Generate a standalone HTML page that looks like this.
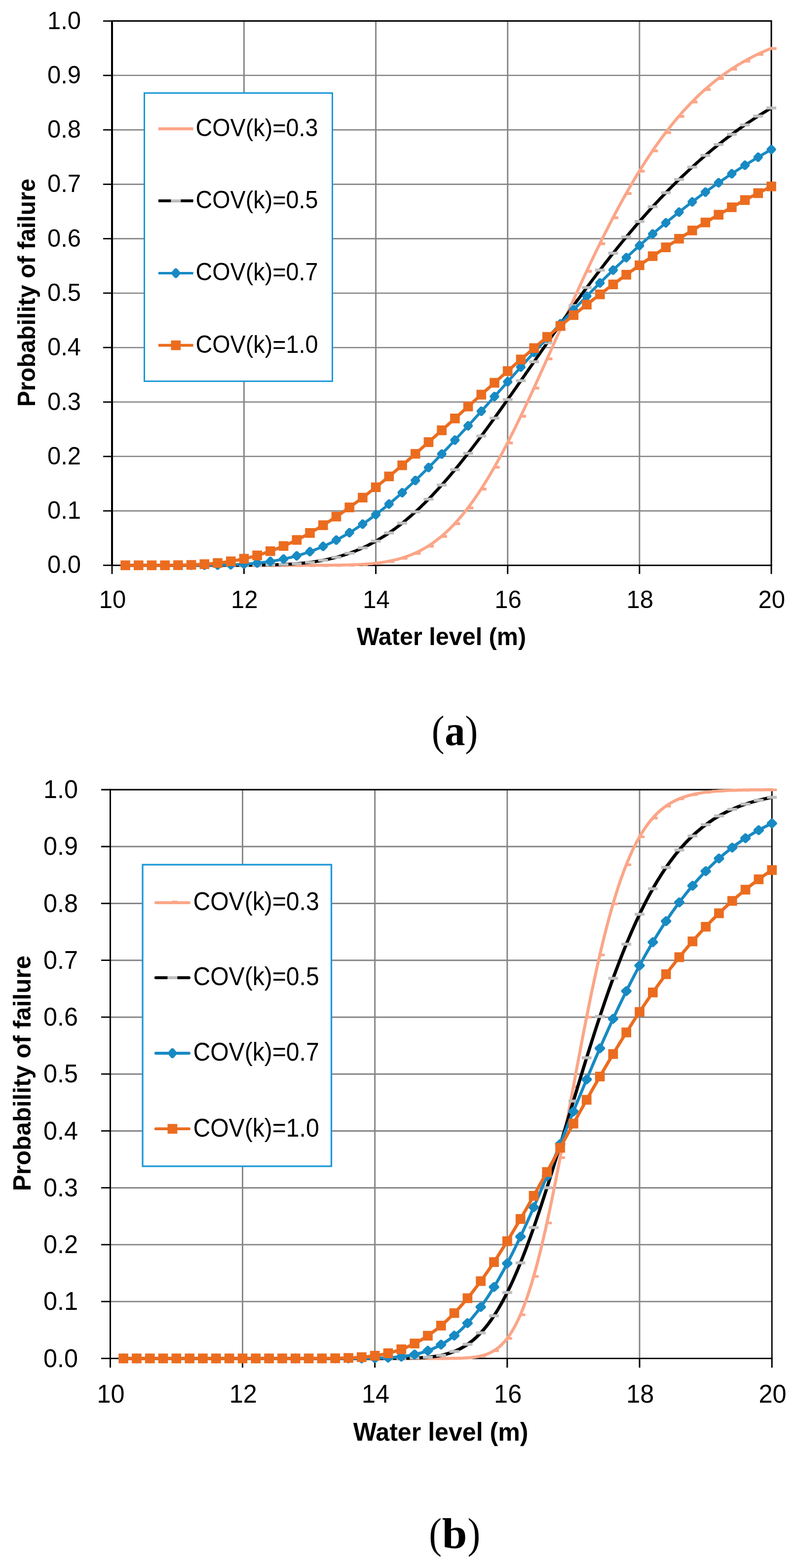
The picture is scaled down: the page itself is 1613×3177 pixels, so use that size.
<!DOCTYPE html>
<html><head><meta charset="utf-8"><title>Probability of failure vs water level</title>
<style>html,body{margin:0;padding:0;background:#fff;}svg{display:block;}</style></head>
<body>
<svg width="1613" height="3177" viewBox="0 0 1613 3177">
<rect width="1613" height="3177" fill="#fff"/>
<g id="chart-a">
<path d="M227.3 1035.11H1563M227.3 924.82H1563M227.3 814.53H1563M227.3 704.24H1563M227.3 593.95H1563M227.3 483.66H1563M227.3 373.37H1563M227.3 263.08H1563M227.3 152.79H1563" stroke="#858585" stroke-width="2.6" fill="none"/>
<path d="M494.44 42.5V1145.4M761.58 42.5V1145.4M1028.72 42.5V1145.4M1295.86 42.5V1145.4" stroke="#858585" stroke-width="2.9" fill="none"/>
<path d="M227.3 42.5H1563M1563 41V1145.4" stroke="#000" stroke-width="3" fill="none"/>
<path d="M227.3 1145.4H1564.5" stroke="#000" stroke-width="3" fill="none"/>
<path d="M227 41V1145.4" stroke="#000" stroke-width="4" fill="none"/>
<path d="M209 1145.4H227M209 1035.11H227M209 924.82H227M209 814.53H227M209 704.24H227M209 593.95H227M209 483.66H227M209 373.37H227M209 263.08H227M209 152.79H227M209 42.5H227" stroke="#000" stroke-width="2.75" fill="none"/>
<path d="M227 1145.4V1163M494.44 1145.4V1163M761.58 1145.4V1163M1028.72 1145.4V1163M1295.86 1145.4V1163M1563 1145.4V1163" stroke="#000" stroke-width="2.9" fill="none"/>
<text transform="translate(164.05 1161.4) scale(0.99 1)" text-anchor="end" font-family="'Liberation Sans', sans-serif" font-size="49.5">0.0</text>
<text transform="translate(164.05 1051.11) scale(0.99 1)" text-anchor="end" font-family="'Liberation Sans', sans-serif" font-size="49.5">0.1</text>
<text transform="translate(164.05 940.82) scale(0.99 1)" text-anchor="end" font-family="'Liberation Sans', sans-serif" font-size="49.5">0.2</text>
<text transform="translate(164.05 830.53) scale(0.99 1)" text-anchor="end" font-family="'Liberation Sans', sans-serif" font-size="49.5">0.3</text>
<text transform="translate(164.05 720.24) scale(0.99 1)" text-anchor="end" font-family="'Liberation Sans', sans-serif" font-size="49.5">0.4</text>
<text transform="translate(164.05 609.95) scale(0.99 1)" text-anchor="end" font-family="'Liberation Sans', sans-serif" font-size="49.5">0.5</text>
<text transform="translate(164.05 499.66) scale(0.99 1)" text-anchor="end" font-family="'Liberation Sans', sans-serif" font-size="49.5">0.6</text>
<text transform="translate(164.05 389.37) scale(0.99 1)" text-anchor="end" font-family="'Liberation Sans', sans-serif" font-size="49.5">0.7</text>
<text transform="translate(164.05 279.08) scale(0.99 1)" text-anchor="end" font-family="'Liberation Sans', sans-serif" font-size="49.5">0.8</text>
<text transform="translate(164.05 168.79) scale(0.99 1)" text-anchor="end" font-family="'Liberation Sans', sans-serif" font-size="49.5">0.9</text>
<text transform="translate(164.05 58.5) scale(0.99 1)" text-anchor="end" font-family="'Liberation Sans', sans-serif" font-size="49.5">1.0</text>
<text transform="translate(228.1 1231.5) scale(0.99 1)" text-anchor="middle" font-family="'Liberation Sans', sans-serif" font-size="49.5">10</text>
<text transform="translate(495.24 1231.5) scale(0.99 1)" text-anchor="middle" font-family="'Liberation Sans', sans-serif" font-size="49.5">12</text>
<text transform="translate(762.38 1231.5) scale(0.99 1)" text-anchor="middle" font-family="'Liberation Sans', sans-serif" font-size="49.5">14</text>
<text transform="translate(1029.52 1231.5) scale(0.99 1)" text-anchor="middle" font-family="'Liberation Sans', sans-serif" font-size="49.5">16</text>
<text transform="translate(1296.66 1231.5) scale(0.99 1)" text-anchor="middle" font-family="'Liberation Sans', sans-serif" font-size="49.5">18</text>
<text transform="translate(1563.8 1231.5) scale(0.99 1)" text-anchor="middle" font-family="'Liberation Sans', sans-serif" font-size="49.5">20</text>
<text transform="translate(722.88 1307.2) scale(0.97 1)" font-family="'Liberation Sans', sans-serif" font-weight="bold" font-size="50">Water level (m)</text>
<text transform="translate(70.9 824.12) rotate(-90) scale(0.97 1)" font-family="'Liberation Sans', sans-serif" font-weight="bold" font-size="49.3">Probability of failure</text>
<polyline points="254.01,1145.4 256.69,1145.4 259.36,1145.4 262.03,1145.4 264.7,1145.4 267.37,1145.4 270.04,1145.4 272.71,1145.4 275.39,1145.4 278.06,1145.4 280.73,1145.4 283.4,1145.4 286.07,1145.4 288.74,1145.4 291.41,1145.4 294.08,1145.4 296.76,1145.4 299.43,1145.4 302.1,1145.4 304.77,1145.4 307.44,1145.4 310.11,1145.4 312.78,1145.4 315.46,1145.4 318.13,1145.4 320.8,1145.4 323.47,1145.4 326.14,1145.4 328.81,1145.4 331.48,1145.4 334.16,1145.4 336.83,1145.4 339.5,1145.4 342.17,1145.4 344.84,1145.4 347.51,1145.4 350.18,1145.4 352.86,1145.4 355.53,1145.4 358.2,1145.4 360.87,1145.4 363.54,1145.4 366.21,1145.4 368.88,1145.4 371.56,1145.4 374.23,1145.4 376.9,1145.4 379.57,1145.4 382.24,1145.4 384.91,1145.4 387.58,1145.4 390.26,1145.4 392.93,1145.4 395.6,1145.4 398.27,1145.4 400.94,1145.4 403.61,1145.4 406.28,1145.4 408.96,1145.4 411.63,1145.4 414.3,1145.4 416.97,1145.4 419.64,1145.4 422.31,1145.4 424.98,1145.4 427.65,1145.4 430.33,1145.4 433,1145.4 435.67,1145.4 438.34,1145.4 441.01,1145.4 443.68,1145.4 446.35,1145.4 449.03,1145.4 451.7,1145.4 454.37,1145.4 457.04,1145.4 459.71,1145.4 462.38,1145.4 465.05,1145.4 467.73,1145.4 470.4,1145.4 473.07,1145.4 475.74,1145.4 478.41,1145.4 481.08,1145.4 483.75,1145.4 486.43,1145.4 489.1,1145.4 491.77,1145.4 494.44,1145.4 497.11,1145.4 499.78,1145.4 502.45,1145.4 505.13,1145.4 507.8,1145.4 510.47,1145.4 513.14,1145.4 515.81,1145.4 518.48,1145.4 521.15,1145.4 523.83,1145.4 526.5,1145.4 529.17,1145.4 531.84,1145.4 534.51,1145.4 537.18,1145.4 539.85,1145.4 542.53,1145.4 545.2,1145.4 547.87,1145.4 550.54,1145.4 553.21,1145.4 555.88,1145.4 558.55,1145.4 561.22,1145.4 563.9,1145.4 566.57,1145.4 569.24,1145.4 571.91,1145.4 574.58,1145.4 577.25,1145.4 579.92,1145.4 582.6,1145.4 585.27,1145.4 587.94,1145.4 590.61,1145.4 593.28,1145.4 595.95,1145.39 598.62,1145.39 601.3,1145.39 603.97,1145.39 606.64,1145.39 609.31,1145.39 611.98,1145.39 614.65,1145.38 617.32,1145.38 620,1145.38 622.67,1145.37 625.34,1145.37 628.01,1145.37 630.68,1145.36 633.35,1145.36 636.02,1145.35 638.7,1145.34 641.37,1145.34 644.04,1145.33 646.71,1145.32 649.38,1145.31 652.05,1145.3 654.72,1145.29 657.4,1145.27 660.07,1145.26 662.74,1145.24 665.41,1145.22 668.08,1145.2 670.75,1145.18 673.42,1145.15 676.1,1145.12 678.77,1145.09 681.44,1145.06 684.11,1145.02 686.78,1144.98 689.45,1144.94 692.12,1144.89 694.79,1144.84 697.47,1144.79 700.14,1144.73 702.81,1144.66 705.48,1144.59 708.15,1144.52 710.82,1144.43 713.49,1144.34 716.17,1144.25 718.84,1144.15 721.51,1144.03 724.18,1143.92 726.85,1143.79 729.52,1143.65 732.19,1143.5 734.87,1143.35 737.54,1143.18 740.21,1143 742.88,1142.81 745.55,1142.6 748.22,1142.39 750.89,1142.16 753.57,1141.91 756.24,1141.65 758.91,1141.38 761.58,1141.08 764.25,1140.77 766.92,1140.44 769.59,1140.1 772.27,1139.73 774.94,1139.34 777.61,1138.93 780.28,1138.5 782.95,1138.05 785.62,1137.57 788.29,1137.07 790.97,1136.54 793.64,1135.99 796.31,1135.41 798.98,1134.8 801.65,1134.16 804.32,1133.49 806.99,1132.79 809.67,1132.06 812.34,1131.29 815.01,1130.49 817.68,1129.66 820.35,1128.79 823.02,1127.88 825.69,1126.94 828.36,1125.96 831.04,1124.94 833.71,1123.87 836.38,1122.77 839.05,1121.62 841.72,1120.43 844.39,1119.2 847.06,1117.92 849.74,1116.59 852.41,1115.22 855.08,1113.8 857.75,1112.33 860.42,1110.81 863.09,1109.24 865.76,1107.62 868.44,1105.95 871.11,1104.22 873.78,1102.44 876.45,1100.61 879.12,1098.72 881.79,1096.78 884.46,1094.77 887.14,1092.72 889.81,1090.6 892.48,1088.43 895.15,1086.19 897.82,1083.9 900.49,1081.55 903.16,1079.14 905.84,1076.66 908.51,1074.13 911.18,1071.53 913.85,1068.88 916.52,1066.16 919.19,1063.37 921.86,1060.53 924.54,1057.62 927.21,1054.65 929.88,1051.61 932.55,1048.51 935.22,1045.35 937.89,1042.13 940.56,1038.84 943.24,1035.48 945.91,1032.07 948.58,1028.59 951.25,1025.05 953.92,1021.44 956.59,1017.77 959.26,1014.04 961.93,1010.25 964.61,1006.39 967.28,1002.47 969.95,998.5 972.62,994.46 975.29,990.36 977.96,986.2 980.63,981.98 983.31,977.7 985.98,973.37 988.65,968.97 991.32,964.52 993.99,960.02 996.66,955.46 999.33,950.84 1002.01,946.17 1004.68,941.45 1007.35,936.67 1010.02,931.84 1012.69,926.97 1015.36,922.04 1018.03,917.06 1020.71,912.04 1023.38,906.97 1026.05,901.85 1028.72,896.69 1031.39,891.48 1034.06,886.23 1036.73,880.94 1039.41,875.61 1042.08,870.24 1044.75,864.83 1047.42,859.39 1050.09,853.91 1052.76,848.39 1055.43,842.84 1058.11,837.26 1060.78,831.64 1063.45,826 1066.12,820.32 1068.79,814.62 1071.46,808.89 1074.13,803.14 1076.81,797.36 1079.48,791.56 1082.15,785.74 1084.82,779.9 1087.49,774.04 1090.16,768.16 1092.83,762.27 1095.5,756.36 1098.18,750.43 1100.85,744.5 1103.52,738.55 1106.19,732.59 1108.86,726.62 1111.53,720.65 1114.2,714.67 1116.88,708.68 1119.55,702.69 1122.22,696.69 1124.89,690.69 1127.56,684.7 1130.23,678.7 1132.9,672.7 1135.58,666.71 1138.25,660.72 1140.92,654.74 1143.59,648.76 1146.26,642.79 1148.93,636.83 1151.6,630.88 1154.28,624.94 1156.95,619.01 1159.62,613.09 1162.29,607.18 1164.96,601.29 1167.63,595.42 1170.3,589.56 1172.98,583.72 1175.65,577.9 1178.32,572.1 1180.99,566.31 1183.66,560.55 1186.33,554.81 1189,549.1 1191.68,543.4 1194.35,537.73 1197.02,532.09 1199.69,526.47 1202.36,520.88 1205.03,515.31 1207.7,509.78 1210.38,504.27 1213.05,498.79 1215.72,493.34 1218.39,487.92 1221.06,482.54 1223.73,477.18 1226.4,471.86 1229.07,466.57 1231.75,461.31 1234.42,456.09 1237.09,450.9 1239.76,445.75 1242.43,440.63 1245.1,435.55 1247.77,430.51 1250.45,425.5 1253.12,420.53 1255.79,415.59 1258.46,410.7 1261.13,405.84 1263.8,401.02 1266.47,396.24 1269.15,391.5 1271.82,386.79 1274.49,382.13 1277.16,377.51 1279.83,372.92 1282.5,368.38 1285.17,363.88 1287.85,359.42 1290.52,354.99 1293.19,350.61 1295.86,346.27 1298.53,341.97 1301.2,337.72 1303.87,333.5 1306.55,329.33 1309.22,325.19 1311.89,321.1 1314.56,317.05 1317.23,313.04 1319.9,309.07 1322.57,305.14 1325.25,301.26 1327.92,297.41 1330.59,293.61 1333.26,289.85 1335.93,286.13 1338.6,282.45 1341.27,278.81 1343.95,275.21 1346.62,271.66 1349.29,268.14 1351.96,264.67 1354.63,261.23 1357.3,257.84 1359.97,254.48 1362.64,251.17 1365.32,247.89 1367.99,244.66 1370.66,241.46 1373.33,238.31 1376,235.19 1378.67,232.11 1381.34,229.07 1384.02,226.07 1386.69,223.11 1389.36,220.18 1392.03,217.29 1394.7,214.44 1397.37,211.63 1400.04,208.86 1402.72,206.12 1405.39,203.41 1408.06,200.75 1410.73,198.12 1413.4,195.52 1416.07,192.96 1418.74,190.44 1421.42,187.95 1424.09,185.49 1426.76,183.07 1429.43,180.69 1432.1,178.33 1434.77,176.01 1437.44,173.73 1440.12,171.47 1442.79,169.25 1445.46,167.06 1448.13,164.9 1450.8,162.78 1453.47,160.68 1456.14,158.62 1458.82,156.59 1461.49,154.58 1464.16,152.61 1466.83,150.67 1469.5,148.75 1472.17,146.87 1474.84,145.01 1477.52,143.18 1480.19,141.38 1482.86,139.61 1485.53,137.87 1488.2,136.15 1490.87,134.46 1493.54,132.8 1496.21,131.16 1498.89,129.55 1501.56,127.96 1504.23,126.4 1506.9,124.86 1509.57,123.35 1512.24,121.87 1514.91,120.4 1517.59,118.97 1520.26,117.55 1522.93,116.16 1525.6,114.79 1528.27,113.44 1530.94,112.12 1533.61,110.82 1536.29,109.53 1538.96,108.28 1541.63,107.04 1544.3,105.82 1546.97,104.62 1549.64,103.45 1552.31,102.29 1554.99,101.15 1557.66,100.04 1560.33,98.94 1563,97.86" stroke="#FBA688" stroke-width="6.0" fill="none" stroke-linejoin="round" stroke-linecap="round"/>
<path d="M254.01 1143.15h10.6v5.7h-10.6zM280.73 1143.15h10.6v5.7h-10.6zM307.44 1143.15h10.6v5.7h-10.6zM334.16 1143.15h10.6v5.7h-10.6zM360.87 1143.15h10.6v5.7h-10.6zM387.58 1143.15h10.6v5.7h-10.6zM414.3 1143.15h10.6v5.7h-10.6zM441.01 1143.15h10.6v5.7h-10.6zM467.73 1143.15h10.6v5.7h-10.6zM494.44 1143.15h10.6v5.7h-10.6zM521.15 1143.15h10.6v5.7h-10.6zM547.87 1143.15h10.6v5.7h-10.6zM574.58 1143.15h10.6v5.7h-10.6zM601.3 1143.14h10.6v5.7h-10.6zM628.01 1143.12h10.6v5.7h-10.6zM654.72 1143.04h10.6v5.7h-10.6zM681.44 1142.81h10.6v5.7h-10.6zM708.15 1142.27h10.6v5.7h-10.6zM734.87 1141.1h10.6v5.7h-10.6zM761.58 1138.83h10.6v5.7h-10.6zM788.29 1134.82h10.6v5.7h-10.6zM815.01 1128.24h10.6v5.7h-10.6zM841.72 1118.18h10.6v5.7h-10.6zM868.44 1103.7h10.6v5.7h-10.6zM895.15 1083.94h10.6v5.7h-10.6zM921.86 1058.28h10.6v5.7h-10.6zM948.58 1026.34h10.6v5.7h-10.6zM975.29 988.11h10.6v5.7h-10.6zM1002.01 943.92h10.6v5.7h-10.6zM1028.72 894.44h10.6v5.7h-10.6zM1055.43 840.59h10.6v5.7h-10.6zM1082.15 783.49h10.6v5.7h-10.6zM1108.86 724.37h10.6v5.7h-10.6zM1135.58 664.46h10.6v5.7h-10.6zM1162.29 604.93h10.6v5.7h-10.6zM1189 546.85h10.6v5.7h-10.6zM1215.72 491.09h10.6v5.7h-10.6zM1242.43 438.38h10.6v5.7h-10.6zM1269.15 389.25h10.6v5.7h-10.6zM1295.86 344.02h10.6v5.7h-10.6zM1322.57 302.89h10.6v5.7h-10.6zM1349.29 265.89h10.6v5.7h-10.6zM1376 232.94h10.6v5.7h-10.6zM1402.72 203.87h10.6v5.7h-10.6zM1429.43 178.44h10.6v5.7h-10.6zM1456.14 156.37h10.6v5.7h-10.6zM1482.86 137.36h10.6v5.7h-10.6zM1509.57 121.1h10.6v5.7h-10.6zM1536.29 107.28h10.6v5.7h-10.6zM1563 95.61h10.6v5.7h-10.6z" fill="#FBA688"/>
<polyline points="254.01,1145.4 256.69,1145.4 259.36,1145.4 262.03,1145.4 264.7,1145.4 267.37,1145.4 270.04,1145.4 272.71,1145.4 275.39,1145.4 278.06,1145.4 280.73,1145.4 283.4,1145.4 286.07,1145.4 288.74,1145.4 291.41,1145.4 294.08,1145.4 296.76,1145.4 299.43,1145.4 302.1,1145.4 304.77,1145.4 307.44,1145.4 310.11,1145.4 312.78,1145.4 315.46,1145.4 318.13,1145.4 320.8,1145.4 323.47,1145.4 326.14,1145.4 328.81,1145.4 331.48,1145.4 334.16,1145.4 336.83,1145.4 339.5,1145.4 342.17,1145.4 344.84,1145.4 347.51,1145.4 350.18,1145.4 352.86,1145.4 355.53,1145.4 358.2,1145.4 360.87,1145.4 363.54,1145.4 366.21,1145.4 368.88,1145.4 371.56,1145.4 374.23,1145.4 376.9,1145.4 379.57,1145.4 382.24,1145.4 384.91,1145.4 387.58,1145.4 390.26,1145.4 392.93,1145.4 395.6,1145.4 398.27,1145.4 400.94,1145.4 403.61,1145.4 406.28,1145.4 408.96,1145.4 411.63,1145.4 414.3,1145.4 416.97,1145.4 419.64,1145.4 422.31,1145.4 424.98,1145.4 427.65,1145.4 430.33,1145.4 433,1145.4 435.67,1145.39 438.34,1145.39 441.01,1145.39 443.68,1145.39 446.35,1145.39 449.03,1145.39 451.7,1145.39 454.37,1145.38 457.04,1145.38 459.71,1145.38 462.38,1145.38 465.05,1145.37 467.73,1145.37 470.4,1145.36 473.07,1145.36 475.74,1145.35 478.41,1145.35 481.08,1145.34 483.75,1145.33 486.43,1145.32 489.1,1145.31 491.77,1145.3 494.44,1145.29 497.11,1145.28 499.78,1145.26 502.45,1145.24 505.13,1145.23 507.8,1145.21 510.47,1145.19 513.14,1145.16 515.81,1145.14 518.48,1145.11 521.15,1145.08 523.83,1145.05 526.5,1145.01 529.17,1144.98 531.84,1144.93 534.51,1144.89 537.18,1144.84 539.85,1144.79 542.53,1144.74 545.2,1144.68 547.87,1144.61 550.54,1144.55 553.21,1144.47 555.88,1144.4 558.55,1144.31 561.22,1144.22 563.9,1144.13 566.57,1144.03 569.24,1143.92 571.91,1143.81 574.58,1143.69 577.25,1143.56 579.92,1143.43 582.6,1143.28 585.27,1143.13 587.94,1142.97 590.61,1142.8 593.28,1142.63 595.95,1142.44 598.62,1142.24 601.3,1142.03 603.97,1141.82 606.64,1141.59 609.31,1141.35 611.98,1141.1 614.65,1140.83 617.32,1140.55 620,1140.26 622.67,1139.96 625.34,1139.64 628.01,1139.31 630.68,1138.97 633.35,1138.61 636.02,1138.23 638.7,1137.84 641.37,1137.43 644.04,1137.01 646.71,1136.57 649.38,1136.11 652.05,1135.64 654.72,1135.14 657.4,1134.63 660.07,1134.1 662.74,1133.55 665.41,1132.98 668.08,1132.39 670.75,1131.78 673.42,1131.15 676.1,1130.5 678.77,1129.82 681.44,1129.13 684.11,1128.41 686.78,1127.67 689.45,1126.91 692.12,1126.12 694.79,1125.31 697.47,1124.47 700.14,1123.61 702.81,1122.73 705.48,1121.82 708.15,1120.88 710.82,1119.92 713.49,1118.94 716.17,1117.92 718.84,1116.88 721.51,1115.82 724.18,1114.72 726.85,1113.6 729.52,1112.45 732.19,1111.27 734.87,1110.07 737.54,1108.84 740.21,1107.57 742.88,1106.28 745.55,1104.96 748.22,1103.61 750.89,1102.23 753.57,1100.82 756.24,1099.38 758.91,1097.92 761.58,1096.42 764.25,1094.89 766.92,1093.33 769.59,1091.74 772.27,1090.12 774.94,1088.47 777.61,1086.79 780.28,1085.07 782.95,1083.33 785.62,1081.56 788.29,1079.75 790.97,1077.91 793.64,1076.04 796.31,1074.15 798.98,1072.22 801.65,1070.25 804.32,1068.26 806.99,1066.24 809.67,1064.19 812.34,1062.1 815.01,1059.98 817.68,1057.84 820.35,1055.66 823.02,1053.45 825.69,1051.21 828.36,1048.94 831.04,1046.64 833.71,1044.31 836.38,1041.95 839.05,1039.56 841.72,1037.14 844.39,1034.69 847.06,1032.21 849.74,1029.7 852.41,1027.17 855.08,1024.6 857.75,1022 860.42,1019.38 863.09,1016.73 865.76,1014.05 868.44,1011.34 871.11,1008.6 873.78,1005.84 876.45,1003.05 879.12,1000.23 881.79,997.38 884.46,994.51 887.14,991.62 889.81,988.69 892.48,985.75 895.15,982.77 897.82,979.77 900.49,976.75 903.16,973.7 905.84,970.63 908.51,967.54 911.18,964.42 913.85,961.28 916.52,958.11 919.19,954.93 921.86,951.72 924.54,948.49 927.21,945.24 929.88,941.96 932.55,938.67 935.22,935.36 937.89,932.02 940.56,928.67 943.24,925.3 945.91,921.91 948.58,918.5 951.25,915.07 953.92,911.63 956.59,908.16 959.26,904.68 961.93,901.19 964.61,897.68 967.28,894.15 969.95,890.6 972.62,887.05 975.29,883.47 977.96,879.89 980.63,876.29 983.31,872.67 985.98,869.04 988.65,865.4 991.32,861.75 993.99,858.09 996.66,854.41 999.33,850.73 1002.01,847.03 1004.68,843.32 1007.35,839.6 1010.02,835.88 1012.69,832.14 1015.36,828.39 1018.03,824.64 1020.71,820.88 1023.38,817.11 1026.05,813.33 1028.72,809.55 1031.39,805.76 1034.06,801.96 1036.73,798.16 1039.41,794.36 1042.08,790.54 1044.75,786.73 1047.42,782.91 1050.09,779.08 1052.76,775.25 1055.43,771.42 1058.11,767.58 1060.78,763.75 1063.45,759.91 1066.12,756.07 1068.79,752.22 1071.46,748.38 1074.13,744.53 1076.81,740.69 1079.48,736.84 1082.15,733 1084.82,729.15 1087.49,725.31 1090.16,721.47 1092.83,717.63 1095.5,713.79 1098.18,709.95 1100.85,706.12 1103.52,702.28 1106.19,698.45 1108.86,694.63 1111.53,690.81 1114.2,686.99 1116.88,683.17 1119.55,679.36 1122.22,675.56 1124.89,671.76 1127.56,667.96 1130.23,664.18 1132.9,660.39 1135.58,656.61 1138.25,652.84 1140.92,649.08 1143.59,645.32 1146.26,641.57 1148.93,637.83 1151.6,634.09 1154.28,630.36 1156.95,626.64 1159.62,622.93 1162.29,619.23 1164.96,615.53 1167.63,611.85 1170.3,608.17 1172.98,604.51 1175.65,600.85 1178.32,597.2 1180.99,593.56 1183.66,589.93 1186.33,586.32 1189,582.71 1191.68,579.11 1194.35,575.53 1197.02,571.95 1199.69,568.39 1202.36,564.84 1205.03,561.3 1207.7,557.77 1210.38,554.25 1213.05,550.75 1215.72,547.25 1218.39,543.77 1221.06,540.3 1223.73,536.85 1226.4,533.41 1229.07,529.98 1231.75,526.56 1234.42,523.16 1237.09,519.76 1239.76,516.39 1242.43,513.02 1245.1,509.67 1247.77,506.34 1250.45,503.01 1253.12,499.71 1255.79,496.41 1258.46,493.13 1261.13,489.86 1263.8,486.61 1266.47,483.37 1269.15,480.15 1271.82,476.94 1274.49,473.75 1277.16,470.57 1279.83,467.4 1282.5,464.25 1285.17,461.12 1287.85,458 1290.52,454.89 1293.19,451.8 1295.86,448.73 1298.53,445.67 1301.2,442.62 1303.87,439.59 1306.55,436.58 1309.22,433.58 1311.89,430.6 1314.56,427.63 1317.23,424.68 1319.9,421.74 1322.57,418.82 1325.25,415.92 1327.92,413.03 1330.59,410.16 1333.26,407.3 1335.93,404.46 1338.6,401.63 1341.27,398.82 1343.95,396.02 1346.62,393.24 1349.29,390.48 1351.96,387.73 1354.63,385 1357.3,382.29 1359.97,379.59 1362.64,376.9 1365.32,374.23 1367.99,371.58 1370.66,368.94 1373.33,366.32 1376,363.72 1378.67,361.13 1381.34,358.56 1384.02,356 1386.69,353.46 1389.36,350.93 1392.03,348.42 1394.7,345.92 1397.37,343.44 1400.04,340.98 1402.72,338.53 1405.39,336.1 1408.06,333.68 1410.73,331.28 1413.4,328.9 1416.07,326.53 1418.74,324.17 1421.42,321.83 1424.09,319.51 1426.76,317.2 1429.43,314.91 1432.1,312.63 1434.77,310.37 1437.44,308.12 1440.12,305.89 1442.79,303.67 1445.46,301.47 1448.13,299.28 1450.8,297.11 1453.47,294.96 1456.14,292.81 1458.82,290.69 1461.49,288.58 1464.16,286.48 1466.83,284.4 1469.5,282.33 1472.17,280.27 1474.84,278.24 1477.52,276.21 1480.19,274.2 1482.86,272.21 1485.53,270.23 1488.2,268.26 1490.87,266.31 1493.54,264.37 1496.21,262.44 1498.89,260.53 1501.56,258.64 1504.23,256.76 1506.9,254.89 1509.57,253.03 1512.24,251.19 1514.91,249.36 1517.59,247.55 1520.26,245.75 1522.93,243.97 1525.6,242.19 1528.27,240.43 1530.94,238.69 1533.61,236.95 1536.29,235.24 1538.96,233.53 1541.63,231.84 1544.3,230.16 1546.97,228.49 1549.64,226.83 1552.31,225.19 1554.99,223.56 1557.66,221.95 1560.33,220.34 1563,218.75" stroke="#000000" stroke-width="6.2" fill="none" stroke-linejoin="round" stroke-linecap="round"/>
<path d="M244.01 1142.5h20v5.8h-20zM270.73 1142.5h20v5.8h-20zM297.44 1142.5h20v5.8h-20zM324.16 1142.5h20v5.8h-20zM350.87 1142.5h20v5.8h-20zM377.58 1142.5h20v5.8h-20zM404.3 1142.5h20v5.8h-20zM431.01 1142.49h20v5.8h-20zM457.73 1142.47h20v5.8h-20zM484.44 1142.39h20v5.8h-20zM511.15 1142.18h20v5.8h-20zM537.87 1141.71h20v5.8h-20zM564.58 1140.79h20v5.8h-20zM591.3 1139.13h20v5.8h-20zM618.01 1136.41h20v5.8h-20zM644.72 1132.24h20v5.8h-20zM671.44 1126.23h20v5.8h-20zM698.15 1117.98h20v5.8h-20zM724.87 1107.17h20v5.8h-20zM751.58 1093.52h20v5.8h-20zM778.29 1076.85h20v5.8h-20zM805.01 1057.08h20v5.8h-20zM831.72 1034.24h20v5.8h-20zM858.44 1008.44h20v5.8h-20zM885.15 979.87h20v5.8h-20zM911.86 948.82h20v5.8h-20zM938.58 915.6h20v5.8h-20zM965.29 880.57h20v5.8h-20zM992.01 844.13h20v5.8h-20zM1018.72 806.65h20v5.8h-20zM1045.43 768.52h20v5.8h-20zM1072.15 730.1h20v5.8h-20zM1098.86 691.73h20v5.8h-20zM1125.58 653.71h20v5.8h-20zM1152.29 616.33h20v5.8h-20zM1179 579.81h20v5.8h-20zM1205.72 544.35h20v5.8h-20zM1232.43 510.12h20v5.8h-20zM1259.15 477.25h20v5.8h-20zM1285.86 445.83h20v5.8h-20zM1312.57 415.92h20v5.8h-20zM1339.29 387.58h20v5.8h-20zM1366 360.82h20v5.8h-20zM1392.72 335.63h20v5.8h-20zM1419.43 312.01h20v5.8h-20zM1446.14 289.91h20v5.8h-20zM1472.86 269.31h20v5.8h-20zM1499.57 250.13h20v5.8h-20zM1526.29 232.34h20v5.8h-20zM1553 215.85h20v5.8h-20z" fill="#BFBFBF"/>
<polyline points="254.01,1145.4 256.69,1145.4 259.36,1145.4 262.03,1145.4 264.7,1145.4 267.37,1145.4 270.04,1145.4 272.71,1145.4 275.39,1145.4 278.06,1145.4 280.73,1145.4 283.4,1145.4 286.07,1145.4 288.74,1145.4 291.41,1145.4 294.08,1145.4 296.76,1145.4 299.43,1145.4 302.1,1145.4 304.77,1145.4 307.44,1145.4 310.11,1145.4 312.78,1145.4 315.46,1145.4 318.13,1145.4 320.8,1145.4 323.47,1145.4 326.14,1145.4 328.81,1145.4 331.48,1145.4 334.16,1145.4 336.83,1145.4 339.5,1145.4 342.17,1145.4 344.84,1145.4 347.51,1145.4 350.18,1145.4 352.86,1145.4 355.53,1145.4 358.2,1145.39 360.87,1145.39 363.54,1145.39 366.21,1145.39 368.88,1145.39 371.56,1145.38 374.23,1145.38 376.9,1145.38 379.57,1145.37 382.24,1145.37 384.91,1145.37 387.58,1145.36 390.26,1145.35 392.93,1145.35 395.6,1145.34 398.27,1145.33 400.94,1145.32 403.61,1145.31 406.28,1145.29 408.96,1145.28 411.63,1145.26 414.3,1145.24 416.97,1145.22 419.64,1145.2 422.31,1145.18 424.98,1145.15 427.65,1145.12 430.33,1145.09 433,1145.06 435.67,1145.02 438.34,1144.98 441.01,1144.94 443.68,1144.89 446.35,1144.84 449.03,1144.78 451.7,1144.72 454.37,1144.66 457.04,1144.59 459.71,1144.52 462.38,1144.44 465.05,1144.36 467.73,1144.27 470.4,1144.17 473.07,1144.07 475.74,1143.96 478.41,1143.85 481.08,1143.72 483.75,1143.59 486.43,1143.46 489.1,1143.31 491.77,1143.16 494.44,1143 497.11,1142.83 499.78,1142.65 502.45,1142.46 505.13,1142.26 507.8,1142.05 510.47,1141.84 513.14,1141.61 515.81,1141.37 518.48,1141.12 521.15,1140.85 523.83,1140.58 526.5,1140.29 529.17,1140 531.84,1139.68 534.51,1139.36 537.18,1139.02 539.85,1138.67 542.53,1138.31 545.2,1137.93 547.87,1137.53 550.54,1137.13 553.21,1136.7 555.88,1136.26 558.55,1135.81 561.22,1135.34 563.9,1134.85 566.57,1134.35 569.24,1133.83 571.91,1133.3 574.58,1132.74 577.25,1132.17 579.92,1131.58 582.6,1130.98 585.27,1130.35 587.94,1129.71 590.61,1129.05 593.28,1128.37 595.95,1127.67 598.62,1126.95 601.3,1126.21 603.97,1125.46 606.64,1124.68 609.31,1123.88 611.98,1123.06 614.65,1122.23 617.32,1121.37 620,1120.49 622.67,1119.59 625.34,1118.67 628.01,1117.73 630.68,1116.76 633.35,1115.78 636.02,1114.77 638.7,1113.74 641.37,1112.7 644.04,1111.62 646.71,1110.53 649.38,1109.42 652.05,1108.28 654.72,1107.12 657.4,1105.94 660.07,1104.74 662.74,1103.51 665.41,1102.26 668.08,1100.99 670.75,1099.7 673.42,1098.39 676.1,1097.05 678.77,1095.69 681.44,1094.31 684.11,1092.9 686.78,1091.47 689.45,1090.03 692.12,1088.55 694.79,1087.06 697.47,1085.54 700.14,1084 702.81,1082.44 705.48,1080.86 708.15,1079.25 710.82,1077.63 713.49,1075.98 716.17,1074.31 718.84,1072.61 721.51,1070.9 724.18,1069.16 726.85,1067.4 729.52,1065.62 732.19,1063.82 734.87,1062 737.54,1060.16 740.21,1058.29 742.88,1056.41 745.55,1054.5 748.22,1052.57 750.89,1050.63 753.57,1048.66 756.24,1046.67 758.91,1044.66 761.58,1042.64 764.25,1040.59 766.92,1038.52 769.59,1036.43 772.27,1034.33 774.94,1032.2 777.61,1030.06 780.28,1027.89 782.95,1025.71 785.62,1023.51 788.29,1021.29 790.97,1019.06 793.64,1016.8 796.31,1014.53 798.98,1012.24 801.65,1009.93 804.32,1007.61 806.99,1005.27 809.67,1002.91 812.34,1000.54 815.01,998.15 817.68,995.74 820.35,993.32 823.02,990.88 825.69,988.43 828.36,985.96 831.04,983.48 833.71,980.98 836.38,978.46 839.05,975.94 841.72,973.4 844.39,970.84 847.06,968.27 849.74,965.69 852.41,963.09 855.08,960.48 857.75,957.86 860.42,955.23 863.09,952.58 865.76,949.92 868.44,947.25 871.11,944.57 873.78,941.88 876.45,939.17 879.12,936.46 881.79,933.73 884.46,930.99 887.14,928.24 889.81,925.49 892.48,922.72 895.15,919.94 897.82,917.16 900.49,914.36 903.16,911.56 905.84,908.74 908.51,905.92 911.18,903.09 913.85,900.25 916.52,897.41 919.19,894.55 921.86,891.69 924.54,888.82 927.21,885.95 929.88,883.07 932.55,880.18 935.22,877.28 937.89,874.38 940.56,871.48 943.24,868.56 945.91,865.65 948.58,862.72 951.25,859.79 953.92,856.86 956.59,853.92 959.26,850.98 961.93,848.04 964.61,845.09 967.28,842.13 969.95,839.17 972.62,836.21 975.29,833.25 977.96,830.28 980.63,827.31 983.31,824.34 985.98,821.36 988.65,818.39 991.32,815.41 993.99,812.42 996.66,809.44 999.33,806.46 1002.01,803.47 1004.68,800.48 1007.35,797.5 1010.02,794.51 1012.69,791.52 1015.36,788.53 1018.03,785.54 1020.71,782.55 1023.38,779.56 1026.05,776.57 1028.72,773.58 1031.39,770.59 1034.06,767.6 1036.73,764.61 1039.41,761.63 1042.08,758.64 1044.75,755.66 1047.42,752.68 1050.09,749.69 1052.76,746.72 1055.43,743.74 1058.11,740.76 1060.78,737.79 1063.45,734.82 1066.12,731.85 1068.79,728.89 1071.46,725.93 1074.13,722.97 1076.81,720.01 1079.48,717.06 1082.15,714.11 1084.82,711.16 1087.49,708.22 1090.16,705.28 1092.83,702.35 1095.5,699.42 1098.18,696.49 1100.85,693.57 1103.52,690.65 1106.19,687.74 1108.86,684.83 1111.53,681.92 1114.2,679.02 1116.88,676.13 1119.55,673.24 1122.22,670.35 1124.89,667.47 1127.56,664.6 1130.23,661.73 1132.9,658.87 1135.58,656.01 1138.25,653.16 1140.92,650.31 1143.59,647.47 1146.26,644.63 1148.93,641.81 1151.6,638.98 1154.28,636.17 1156.95,633.36 1159.62,630.55 1162.29,627.76 1164.96,624.97 1167.63,622.18 1170.3,619.41 1172.98,616.64 1175.65,613.87 1178.32,611.12 1180.99,608.37 1183.66,605.62 1186.33,602.89 1189,600.16 1191.68,597.44 1194.35,594.73 1197.02,592.02 1199.69,589.32 1202.36,586.63 1205.03,583.95 1207.7,581.27 1210.38,578.61 1213.05,575.95 1215.72,573.29 1218.39,570.65 1221.06,568.01 1223.73,565.38 1226.4,562.76 1229.07,560.15 1231.75,557.55 1234.42,554.95 1237.09,552.36 1239.76,549.78 1242.43,547.21 1245.1,544.65 1247.77,542.09 1250.45,539.55 1253.12,537.01 1255.79,534.48 1258.46,531.96 1261.13,529.44 1263.8,526.94 1266.47,524.44 1269.15,521.96 1271.82,519.48 1274.49,517.01 1277.16,514.55 1279.83,512.1 1282.5,509.65 1285.17,507.22 1287.85,504.79 1290.52,502.38 1293.19,499.97 1295.86,497.57 1298.53,495.18 1301.2,492.8 1303.87,490.43 1306.55,488.06 1309.22,485.71 1311.89,483.36 1314.56,481.03 1317.23,478.7 1319.9,476.38 1322.57,474.07 1325.25,471.77 1327.92,469.48 1330.59,467.2 1333.26,464.93 1335.93,462.66 1338.6,460.41 1341.27,458.16 1343.95,455.93 1346.62,453.7 1349.29,451.48 1351.96,449.27 1354.63,447.07 1357.3,444.88 1359.97,442.7 1362.64,440.53 1365.32,438.36 1367.99,436.21 1370.66,434.06 1373.33,431.93 1376,429.8 1378.67,427.68 1381.34,425.57 1384.02,423.47 1386.69,421.38 1389.36,419.3 1392.03,417.23 1394.7,415.16 1397.37,413.11 1400.04,411.06 1402.72,409.03 1405.39,407 1408.06,404.98 1410.73,402.97 1413.4,400.97 1416.07,398.98 1418.74,397 1421.42,395.03 1424.09,393.06 1426.76,391.11 1429.43,389.16 1432.1,387.23 1434.77,385.3 1437.44,383.38 1440.12,381.47 1442.79,379.57 1445.46,377.67 1448.13,375.79 1450.8,373.92 1453.47,372.05 1456.14,370.19 1458.82,368.34 1461.49,366.51 1464.16,364.67 1466.83,362.85 1469.5,361.04 1472.17,359.23 1474.84,357.44 1477.52,355.65 1480.19,353.87 1482.86,352.1 1485.53,350.34 1488.2,348.59 1490.87,346.84 1493.54,345.11 1496.21,343.38 1498.89,341.66 1501.56,339.95 1504.23,338.25 1506.9,336.56 1509.57,334.87 1512.24,333.2 1514.91,331.53 1517.59,329.87 1520.26,328.22 1522.93,326.57 1525.6,324.94 1528.27,323.31 1530.94,321.69 1533.61,320.08 1536.29,318.48 1538.96,316.89 1541.63,315.3 1544.3,313.72 1546.97,312.15 1549.64,310.59 1552.31,309.04 1554.99,307.49 1557.66,305.96 1560.33,304.43 1563,302.91" stroke="#188AC3" stroke-width="5.7" fill="none" stroke-linejoin="round" stroke-linecap="round"/>
<path d="M252.21 1135.9H255.81L263.41 1143.8V1147L255.81 1154.9H252.21L244.61 1147V1143.8zM278.93 1135.9H282.53L290.13 1143.8V1147L282.53 1154.9H278.93L271.33 1147V1143.8zM305.64 1135.9H309.24L316.84 1143.8V1147L309.24 1154.9H305.64L298.04 1147V1143.8zM332.36 1135.9H335.96L343.56 1143.8V1147L335.96 1154.9H332.36L324.76 1147V1143.8zM359.07 1135.89H362.67L370.27 1143.79V1146.99L362.67 1154.89H359.07L351.47 1146.99V1143.79zM385.78 1135.86H389.38L396.98 1143.76V1146.96L389.38 1154.86H385.78L378.18 1146.96V1143.76zM412.5 1135.74H416.1L423.7 1143.64V1146.84L416.1 1154.74H412.5L404.9 1146.84V1143.64zM439.21 1135.44H442.81L450.41 1143.34V1146.54L442.81 1154.44H439.21L431.61 1146.54V1143.34zM465.93 1134.77H469.53L477.13 1142.67V1145.87L469.53 1153.77H465.93L458.33 1145.87V1142.67zM492.64 1133.5H496.24L503.84 1141.4V1144.6L496.24 1152.5H492.64L485.04 1144.6V1141.4zM519.35 1131.35H522.95L530.55 1139.25V1142.45L522.95 1150.35H519.35L511.75 1142.45V1139.25zM546.07 1128.03H549.67L557.27 1135.93V1139.13L549.67 1147.03H546.07L538.47 1139.13V1135.93zM572.78 1123.24H576.38L583.98 1131.14V1134.34L576.38 1142.24H572.78L565.18 1134.34V1131.14zM599.5 1116.71H603.1L610.7 1124.61V1127.81L603.1 1135.71H599.5L591.9 1127.81V1124.61zM626.21 1108.23H629.81L637.41 1116.13V1119.33L629.81 1127.23H626.21L618.61 1119.33V1116.13zM652.92 1097.62H656.52L664.12 1105.52V1108.72L656.52 1116.62H652.92L645.32 1108.72V1105.52zM679.64 1084.81H683.24L690.84 1092.71V1095.91L683.24 1103.81H679.64L672.04 1095.91V1092.71zM706.35 1069.75H709.95L717.55 1077.65V1080.85L709.95 1088.75H706.35L698.75 1080.85V1077.65zM733.07 1052.5H736.67L744.27 1060.4V1063.6L736.67 1071.5H733.07L725.47 1063.6V1060.4zM759.78 1033.14H763.38L770.98 1041.04V1044.24L763.38 1052.14H759.78L752.18 1044.24V1041.04zM786.49 1011.79H790.09L797.69 1019.69V1022.89L790.09 1030.79H786.49L778.89 1022.89V1019.69zM813.21 988.65H816.81L824.41 996.55V999.75L816.81 1007.65H813.21L805.61 999.75V996.55zM839.92 963.9H843.52L851.12 971.8V975L843.52 982.9H839.92L832.32 975V971.8zM866.64 937.75H870.24L877.84 945.65V948.85L870.24 956.75H866.64L859.04 948.85V945.65zM893.35 910.44H896.95L904.55 918.34V921.54L896.95 929.44H893.35L885.75 921.54V918.34zM920.06 882.19H923.66L931.26 890.09V893.29L923.66 901.19H920.06L912.46 893.29V890.09zM946.78 853.22H950.38L957.98 861.12V864.32L950.38 872.22H946.78L939.18 864.32V861.12zM973.49 823.75H977.09L984.69 831.65V834.85L977.09 842.75H973.49L965.89 834.85V831.65zM1000.21 793.97H1003.81L1011.41 801.87V805.07L1003.81 812.97H1000.21L992.61 805.07V801.87zM1026.92 764.08H1030.52L1038.12 771.98V775.18L1030.52 783.08H1026.92L1019.32 775.18V771.98zM1053.63 734.24H1057.23L1064.83 742.14V745.34L1057.23 753.24H1053.63L1046.03 745.34V742.14zM1080.35 704.61H1083.95L1091.55 712.51V715.71L1083.95 723.61H1080.35L1072.75 715.71V712.51zM1107.06 675.33H1110.66L1118.26 683.23V686.43L1110.66 694.33H1107.06L1099.46 686.43V683.23zM1133.78 646.51H1137.38L1144.98 654.41V657.61L1137.38 665.51H1133.78L1126.18 657.61V654.41zM1160.49 618.26H1164.09L1171.69 626.16V629.36L1164.09 637.26H1160.49L1152.89 629.36V626.16zM1187.2 590.66H1190.8L1198.4 598.56V601.76L1190.8 609.66H1187.2L1179.6 601.76V598.56zM1213.92 563.79H1217.52L1225.12 571.69V574.89L1217.52 582.79H1213.92L1206.32 574.89V571.69zM1240.63 537.71H1244.23L1251.83 545.61V548.81L1244.23 556.71H1240.63L1233.03 548.81V545.61zM1267.35 512.46H1270.95L1278.55 520.36V523.56L1270.95 531.46H1267.35L1259.75 523.56V520.36zM1294.06 488.07H1297.66L1305.26 495.97V499.17L1297.66 507.07H1294.06L1286.46 499.17V495.97zM1320.77 464.57H1324.37L1331.97 472.47V475.67L1324.37 483.57H1320.77L1313.17 475.67V472.47zM1347.49 441.98H1351.09L1358.69 449.88V453.08L1351.09 460.98H1347.49L1339.89 453.08V449.88zM1374.2 420.3H1377.8L1385.4 428.2V431.4L1377.8 439.3H1374.2L1366.6 431.4V428.2zM1400.92 399.53H1404.52L1412.12 407.43V410.63L1404.52 418.53H1400.92L1393.32 410.63V407.43zM1427.63 379.66H1431.23L1438.83 387.56V390.76L1431.23 398.66H1427.63L1420.03 390.76V387.56zM1454.34 360.69H1457.94L1465.54 368.59V371.79L1457.94 379.69H1454.34L1446.74 371.79V368.59zM1481.06 342.6H1484.66L1492.26 350.5V353.7L1484.66 361.6H1481.06L1473.46 353.7V350.5zM1507.77 325.37H1511.37L1518.97 333.27V336.47L1511.37 344.37H1507.77L1500.17 336.47V333.27zM1534.49 308.98H1538.09L1545.69 316.88V320.08L1538.09 327.98H1534.49L1526.89 320.08V316.88zM1561.2 293.41H1564.8L1572.4 301.31V304.51L1564.8 312.41H1561.2L1553.6 304.51V301.31z" fill="#188AC3"/>
<polyline points="254.01,1145.4 256.69,1145.4 259.36,1145.4 262.03,1145.4 264.7,1145.4 267.37,1145.4 270.04,1145.4 272.71,1145.4 275.39,1145.4 278.06,1145.4 280.73,1145.4 283.4,1145.4 286.07,1145.4 288.74,1145.4 291.41,1145.4 294.08,1145.4 296.76,1145.4 299.43,1145.4 302.1,1145.39 304.77,1145.39 307.44,1145.39 310.11,1145.39 312.78,1145.39 315.46,1145.38 318.13,1145.38 320.8,1145.37 323.47,1145.37 326.14,1145.36 328.81,1145.35 331.48,1145.34 334.16,1145.33 336.83,1145.31 339.5,1145.3 342.17,1145.28 344.84,1145.26 347.51,1145.24 350.18,1145.22 352.86,1145.19 355.53,1145.16 358.2,1145.12 360.87,1145.08 363.54,1145.04 366.21,1145 368.88,1144.95 371.56,1144.89 374.23,1144.83 376.9,1144.77 379.57,1144.69 382.24,1144.62 384.91,1144.53 387.58,1144.44 390.26,1144.35 392.93,1144.24 395.6,1144.13 398.27,1144.02 400.94,1143.89 403.61,1143.75 406.28,1143.61 408.96,1143.46 411.63,1143.3 414.3,1143.13 416.97,1142.95 419.64,1142.75 422.31,1142.55 424.98,1142.34 427.65,1142.12 430.33,1141.88 433,1141.64 435.67,1141.38 438.34,1141.11 441.01,1140.82 443.68,1140.53 446.35,1140.22 449.03,1139.9 451.7,1139.56 454.37,1139.21 457.04,1138.85 459.71,1138.47 462.38,1138.07 465.05,1137.67 467.73,1137.24 470.4,1136.81 473.07,1136.35 475.74,1135.88 478.41,1135.4 481.08,1134.9 483.75,1134.38 486.43,1133.85 489.1,1133.3 491.77,1132.73 494.44,1132.15 497.11,1131.55 499.78,1130.93 502.45,1130.29 505.13,1129.64 507.8,1128.97 510.47,1128.28 513.14,1127.58 515.81,1126.85 518.48,1126.11 521.15,1125.35 523.83,1124.57 526.5,1123.78 529.17,1122.96 531.84,1122.13 534.51,1121.28 537.18,1120.41 539.85,1119.52 542.53,1118.61 545.2,1117.69 547.87,1116.74 550.54,1115.78 553.21,1114.8 555.88,1113.8 558.55,1112.78 561.22,1111.75 563.9,1110.69 566.57,1109.62 569.24,1108.52 571.91,1107.41 574.58,1106.28 577.25,1105.13 579.92,1103.97 582.6,1102.78 585.27,1101.58 587.94,1100.36 590.61,1099.12 593.28,1097.86 595.95,1096.58 598.62,1095.29 601.3,1093.98 603.97,1092.65 606.64,1091.3 609.31,1089.93 611.98,1088.55 614.65,1087.15 617.32,1085.73 620,1084.3 622.67,1082.85 625.34,1081.38 628.01,1079.89 630.68,1078.39 633.35,1076.87 636.02,1075.33 638.7,1073.78 641.37,1072.21 644.04,1070.63 646.71,1069.03 649.38,1067.41 652.05,1065.78 654.72,1064.13 657.4,1062.47 660.07,1060.79 662.74,1059.09 665.41,1057.39 668.08,1055.66 670.75,1053.92 673.42,1052.17 676.1,1050.4 678.77,1048.62 681.44,1046.82 684.11,1045.01 686.78,1043.19 689.45,1041.35 692.12,1039.5 694.79,1037.64 697.47,1035.76 700.14,1033.87 702.81,1031.97 705.48,1030.05 708.15,1028.12 710.82,1026.18 713.49,1024.23 716.17,1022.27 718.84,1020.29 721.51,1018.3 724.18,1016.3 726.85,1014.29 729.52,1012.27 732.19,1010.24 734.87,1008.19 737.54,1006.14 740.21,1004.07 742.88,1002 745.55,999.91 748.22,997.82 750.89,995.71 753.57,993.6 756.24,991.47 758.91,989.34 761.58,987.2 764.25,985.05 766.92,982.89 769.59,980.72 772.27,978.54 774.94,976.35 777.61,974.16 780.28,971.96 782.95,969.75 785.62,967.53 788.29,965.31 790.97,963.07 793.64,960.83 796.31,958.59 798.98,956.33 801.65,954.07 804.32,951.81 806.99,949.54 809.67,947.26 812.34,944.97 815.01,942.68 817.68,940.38 820.35,938.08 823.02,935.77 825.69,933.46 828.36,931.14 831.04,928.82 833.71,926.49 836.38,924.16 839.05,921.82 841.72,919.48 844.39,917.13 847.06,914.78 849.74,912.43 852.41,910.07 855.08,907.71 857.75,905.34 860.42,902.97 863.09,900.6 865.76,898.22 868.44,895.85 871.11,893.46 873.78,891.08 876.45,888.69 879.12,886.3 881.79,883.91 884.46,881.52 887.14,879.12 889.81,876.72 892.48,874.32 895.15,871.92 897.82,869.52 900.49,867.11 903.16,864.7 905.84,862.3 908.51,859.89 911.18,857.48 913.85,855.07 916.52,852.65 919.19,850.24 921.86,847.83 924.54,845.41 927.21,843 929.88,840.58 932.55,838.17 935.22,835.75 937.89,833.34 940.56,830.92 943.24,828.51 945.91,826.09 948.58,823.68 951.25,821.27 953.92,818.85 956.59,816.44 959.26,814.03 961.93,811.62 964.61,809.21 967.28,806.8 969.95,804.39 972.62,801.98 975.29,799.58 977.96,797.17 980.63,794.77 983.31,792.37 985.98,789.97 988.65,787.57 991.32,785.18 993.99,782.79 996.66,780.39 999.33,778 1002.01,775.62 1004.68,773.23 1007.35,770.85 1010.02,768.47 1012.69,766.09 1015.36,763.71 1018.03,761.34 1020.71,758.97 1023.38,756.6 1026.05,754.23 1028.72,751.87 1031.39,749.51 1034.06,747.16 1036.73,744.8 1039.41,742.45 1042.08,740.1 1044.75,737.76 1047.42,735.42 1050.09,733.08 1052.76,730.75 1055.43,728.42 1058.11,726.09 1060.78,723.76 1063.45,721.44 1066.12,719.13 1068.79,716.81 1071.46,714.51 1074.13,712.2 1076.81,709.9 1079.48,707.6 1082.15,705.31 1084.82,703.02 1087.49,700.73 1090.16,698.45 1092.83,696.17 1095.5,693.9 1098.18,691.63 1100.85,689.37 1103.52,687.1 1106.19,684.85 1108.86,682.6 1111.53,680.35 1114.2,678.11 1116.88,675.87 1119.55,673.63 1122.22,671.41 1124.89,669.18 1127.56,666.96 1130.23,664.75 1132.9,662.54 1135.58,660.33 1138.25,658.13 1140.92,655.93 1143.59,653.74 1146.26,651.55 1148.93,649.37 1151.6,647.2 1154.28,645.02 1156.95,642.86 1159.62,640.7 1162.29,638.54 1164.96,636.39 1167.63,634.24 1170.3,632.1 1172.98,629.96 1175.65,627.83 1178.32,625.71 1180.99,623.59 1183.66,621.47 1186.33,619.36 1189,617.26 1191.68,615.16 1194.35,613.06 1197.02,610.97 1199.69,608.89 1202.36,606.81 1205.03,604.74 1207.7,602.67 1210.38,600.61 1213.05,598.55 1215.72,596.5 1218.39,594.46 1221.06,592.42 1223.73,590.38 1226.4,588.35 1229.07,586.33 1231.75,584.31 1234.42,582.3 1237.09,580.29 1239.76,578.29 1242.43,576.3 1245.1,574.31 1247.77,572.32 1250.45,570.34 1253.12,568.37 1255.79,566.4 1258.46,564.44 1261.13,562.48 1263.8,560.53 1266.47,558.59 1269.15,556.65 1271.82,554.71 1274.49,552.79 1277.16,550.86 1279.83,548.95 1282.5,547.04 1285.17,545.13 1287.85,543.23 1290.52,541.34 1293.19,539.45 1295.86,537.57 1298.53,535.69 1301.2,533.82 1303.87,531.96 1306.55,530.1 1309.22,528.24 1311.89,526.4 1314.56,524.55 1317.23,522.72 1319.9,520.89 1322.57,519.06 1325.25,517.24 1327.92,515.43 1330.59,513.62 1333.26,511.82 1335.93,510.03 1338.6,508.24 1341.27,506.45 1343.95,504.67 1346.62,502.9 1349.29,501.13 1351.96,499.37 1354.63,497.61 1357.3,495.86 1359.97,494.12 1362.64,492.38 1365.32,490.65 1367.99,488.92 1370.66,487.2 1373.33,485.48 1376,483.77 1378.67,482.07 1381.34,480.37 1384.02,478.68 1386.69,476.99 1389.36,475.31 1392.03,473.63 1394.7,471.96 1397.37,470.3 1400.04,468.64 1402.72,466.99 1405.39,465.34 1408.06,463.7 1410.73,462.06 1413.4,460.43 1416.07,458.8 1418.74,457.18 1421.42,455.57 1424.09,453.96 1426.76,452.36 1429.43,450.76 1432.1,449.17 1434.77,447.58 1437.44,446 1440.12,444.43 1442.79,442.86 1445.46,441.29 1448.13,439.74 1450.8,438.18 1453.47,436.63 1456.14,435.09 1458.82,433.56 1461.49,432.02 1464.16,430.5 1466.83,428.98 1469.5,427.46 1472.17,425.95 1474.84,424.45 1477.52,422.95 1480.19,421.46 1482.86,419.97 1485.53,418.49 1488.2,417.01 1490.87,415.54 1493.54,414.07 1496.21,412.61 1498.89,411.16 1501.56,409.71 1504.23,408.26 1506.9,406.82 1509.57,405.39 1512.24,403.96 1514.91,402.53 1517.59,401.11 1520.26,399.7 1522.93,398.29 1525.6,396.89 1528.27,395.49 1530.94,394.1 1533.61,392.71 1536.29,391.33 1538.96,389.95 1541.63,388.58 1544.3,387.21 1546.97,385.85 1549.64,384.49 1552.31,383.14 1554.99,381.79 1557.66,380.45 1560.33,379.11 1563,377.78" stroke="#EB6C1F" stroke-width="6.4" fill="none" stroke-linejoin="round" stroke-linecap="round"/>
<path d="M244.21 1135.6h19.6v19.6h-19.6zM270.93 1135.6h19.6v19.6h-19.6zM297.64 1135.59h19.6v19.6h-19.6zM324.36 1135.53h19.6v19.6h-19.6zM351.07 1135.28h19.6v19.6h-19.6zM377.78 1134.64h19.6v19.6h-19.6zM404.5 1133.33h19.6v19.6h-19.6zM431.21 1131.02h19.6v19.6h-19.6zM457.93 1127.44h19.6v19.6h-19.6zM484.64 1122.35h19.6v19.6h-19.6zM511.35 1115.55h19.6v19.6h-19.6zM538.07 1106.94h19.6v19.6h-19.6zM564.78 1096.48h19.6v19.6h-19.6zM591.5 1084.18h19.6v19.6h-19.6zM618.21 1070.09h19.6v19.6h-19.6zM644.92 1054.33h19.6v19.6h-19.6zM671.64 1037.02h19.6v19.6h-19.6zM698.35 1018.32h19.6v19.6h-19.6zM725.07 998.39h19.6v19.6h-19.6zM751.78 977.4h19.6v19.6h-19.6zM778.49 955.51h19.6v19.6h-19.6zM805.21 932.88h19.6v19.6h-19.6zM831.92 909.68h19.6v19.6h-19.6zM858.64 886.05h19.6v19.6h-19.6zM885.35 862.12h19.6v19.6h-19.6zM912.06 838.03h19.6v19.6h-19.6zM938.78 813.88h19.6v19.6h-19.6zM965.49 789.78h19.6v19.6h-19.6zM992.21 765.82h19.6v19.6h-19.6zM1018.92 742.07h19.6v19.6h-19.6zM1045.63 718.62h19.6v19.6h-19.6zM1072.35 695.51h19.6v19.6h-19.6zM1099.06 672.8h19.6v19.6h-19.6zM1125.78 650.53h19.6v19.6h-19.6zM1152.49 628.74h19.6v19.6h-19.6zM1179.2 607.46h19.6v19.6h-19.6zM1205.92 586.7h19.6v19.6h-19.6zM1232.63 566.5h19.6v19.6h-19.6zM1259.35 546.85h19.6v19.6h-19.6zM1286.06 527.77h19.6v19.6h-19.6zM1312.77 509.26h19.6v19.6h-19.6zM1339.49 491.33h19.6v19.6h-19.6zM1366.2 473.97h19.6v19.6h-19.6zM1392.92 457.19h19.6v19.6h-19.6zM1419.63 440.96h19.6v19.6h-19.6zM1446.34 425.29h19.6v19.6h-19.6zM1473.06 410.17h19.6v19.6h-19.6zM1499.77 395.59h19.6v19.6h-19.6zM1526.49 381.53h19.6v19.6h-19.6zM1553.2 367.98h19.6v19.6h-19.6z" fill="#EB6C1F"/>
<rect x="292.5" y="188.5" width="381" height="583.9" fill="#fff" stroke="#1A98D6" stroke-width="3"/>
<path d="M321 261H391.6" stroke="#FBA688" stroke-width="5.9"/>
<rect x="356.3" y="258.1" width="10.6" height="5.8" fill="#FBA688"/>
<text transform="translate(396.47 275.9) scale(0.95 1)" font-family="'Liberation Sans', sans-serif" font-weight="normal" font-size="49.2">COV(k)=0.3</text>
<path d="M321 406.9H391.6" stroke="#000000" stroke-width="5.9"/>
<rect x="346.3" y="404" width="20" height="5.8" fill="#BFBFBF"/>
<text transform="translate(396.47 421.8) scale(0.95 1)" font-family="'Liberation Sans', sans-serif" font-weight="normal" font-size="49.2">COV(k)=0.5</text>
<path d="M321 553.5H391.6" stroke="#188AC3" stroke-width="4.8"/>
<path d="M354.3 543.8H358.3L364.6 551.1V555.9L358.3 563.2H354.3L348 555.9V551.1z" fill="#188AC3"/>
<text transform="translate(396.47 568.4) scale(0.95 1)" font-family="'Liberation Sans', sans-serif" font-weight="normal" font-size="49.2">COV(k)=0.7</text>
<path d="M321 699.6H391.6" stroke="#EB6C1F" stroke-width="5.75"/>
<rect x="346.5" y="689.8" width="19.6" height="19.6" fill="#EB6C1F"/>
<text transform="translate(396.47 714.5) scale(0.95 1)" font-family="'Liberation Sans', sans-serif" font-weight="normal" font-size="49.2">COV(k)=1.0</text>
<text transform="translate(874.72 1509.6) scale(0.9 1)" font-family="'Liberation Serif', serif" font-weight="normal" font-size="86">(</text>
<text transform="translate(901.22 1509.6) scale(0.96 1)" font-family="'Liberation Serif', serif" font-weight="bold" font-size="86">a</text>
<text transform="translate(942.48 1509.6) scale(0.9 1)" font-family="'Liberation Serif', serif" font-weight="normal" font-size="86">)</text>
</g>
<g id="chart-b">
<path d="M223.3 2637.16H1564.2M223.3 2521.92H1564.2M223.3 2406.68H1564.2M223.3 2291.44H1564.2M223.3 2176.2H1564.2M223.3 2060.96H1564.2M223.3 1945.72H1564.2M223.3 1830.48H1564.2M223.3 1715.24H1564.2" stroke="#858585" stroke-width="2.9" fill="none"/>
<path d="M491.48 1600V2752.4M759.66 1600V2752.4M1027.84 1600V2752.4M1296.02 1600V2752.4" stroke="#858585" stroke-width="2.9" fill="none"/>
<path d="M223.3 1600H1564.2M1564.2 1598.6V2752.4" stroke="#000" stroke-width="2.8" fill="none"/>
<path d="M223.3 2752.4H1565.7" stroke="#000" stroke-width="2.8" fill="none"/>
<path d="M223.5 1598.5V2752.4" stroke="#000" stroke-width="3" fill="none"/>
<path d="M205 2752.4H223.5M205 2637.16H223.5M205 2521.92H223.5M205 2406.68H223.5M205 2291.44H223.5M205 2176.2H223.5M205 2060.96H223.5M205 1945.72H223.5M205 1830.48H223.5M205 1715.24H223.5M205 1600H223.5" stroke="#000" stroke-width="2.8" fill="none"/>
<path d="M223.5 2752.4V2771M491.48 2752.4V2771M759.66 2752.4V2771M1027.84 2752.4V2771M1296.02 2752.4V2771M1564.2 2752.4V2771" stroke="#000" stroke-width="3" fill="none"/>
<text transform="translate(158 2769.5) scale(0.96 1)" text-anchor="end" font-family="'Liberation Sans', sans-serif" font-size="52.5">0.0</text>
<text transform="translate(158 2654.26) scale(0.96 1)" text-anchor="end" font-family="'Liberation Sans', sans-serif" font-size="52.5">0.1</text>
<text transform="translate(158 2539.02) scale(0.96 1)" text-anchor="end" font-family="'Liberation Sans', sans-serif" font-size="52.5">0.2</text>
<text transform="translate(158 2423.78) scale(0.96 1)" text-anchor="end" font-family="'Liberation Sans', sans-serif" font-size="52.5">0.3</text>
<text transform="translate(158 2308.54) scale(0.96 1)" text-anchor="end" font-family="'Liberation Sans', sans-serif" font-size="52.5">0.4</text>
<text transform="translate(158 2193.3) scale(0.96 1)" text-anchor="end" font-family="'Liberation Sans', sans-serif" font-size="52.5">0.5</text>
<text transform="translate(158 2078.06) scale(0.96 1)" text-anchor="end" font-family="'Liberation Sans', sans-serif" font-size="52.5">0.6</text>
<text transform="translate(158 1962.82) scale(0.96 1)" text-anchor="end" font-family="'Liberation Sans', sans-serif" font-size="52.5">0.7</text>
<text transform="translate(158 1847.58) scale(0.96 1)" text-anchor="end" font-family="'Liberation Sans', sans-serif" font-size="52.5">0.8</text>
<text transform="translate(158 1732.34) scale(0.96 1)" text-anchor="end" font-family="'Liberation Sans', sans-serif" font-size="52.5">0.9</text>
<text transform="translate(158 1617.1) scale(0.96 1)" text-anchor="end" font-family="'Liberation Sans', sans-serif" font-size="52.5">1.0</text>
<text transform="translate(224.6 2842.4) scale(0.96 1)" text-anchor="middle" font-family="'Liberation Sans', sans-serif" font-size="52.5">10</text>
<text transform="translate(492.78 2842.4) scale(0.96 1)" text-anchor="middle" font-family="'Liberation Sans', sans-serif" font-size="52.5">12</text>
<text transform="translate(760.96 2842.4) scale(0.96 1)" text-anchor="middle" font-family="'Liberation Sans', sans-serif" font-size="52.5">14</text>
<text transform="translate(1029.14 2842.4) scale(0.96 1)" text-anchor="middle" font-family="'Liberation Sans', sans-serif" font-size="52.5">16</text>
<text transform="translate(1297.32 2842.4) scale(0.96 1)" text-anchor="middle" font-family="'Liberation Sans', sans-serif" font-size="52.5">18</text>
<text transform="translate(1565.5 2842.4) scale(0.96 1)" text-anchor="middle" font-family="'Liberation Sans', sans-serif" font-size="52.5">20</text>
<text transform="translate(715.87 2918.8) scale(0.96 1)" font-family="'Liberation Sans', sans-serif" font-weight="bold" font-size="52.2">Water level (m)</text>
<text transform="translate(62 2413.23) rotate(-90) scale(0.97 1)" font-family="'Liberation Sans', sans-serif" font-weight="bold" font-size="50.9">Probability of failure</text>
<polyline points="250.12,2752.4 252.8,2752.4 255.48,2752.4 258.16,2752.4 260.85,2752.4 263.53,2752.4 266.21,2752.4 268.89,2752.4 271.57,2752.4 274.25,2752.4 276.94,2752.4 279.62,2752.4 282.3,2752.4 284.98,2752.4 287.66,2752.4 290.34,2752.4 293.03,2752.4 295.71,2752.4 298.39,2752.4 301.07,2752.4 303.75,2752.4 306.44,2752.4 309.12,2752.4 311.8,2752.4 314.48,2752.4 317.16,2752.4 319.84,2752.4 322.53,2752.4 325.21,2752.4 327.89,2752.4 330.57,2752.4 333.25,2752.4 335.94,2752.4 338.62,2752.4 341.3,2752.4 343.98,2752.4 346.66,2752.4 349.34,2752.4 352.03,2752.4 354.71,2752.4 357.39,2752.4 360.07,2752.4 362.75,2752.4 365.44,2752.4 368.12,2752.4 370.8,2752.4 373.48,2752.4 376.16,2752.4 378.84,2752.4 381.53,2752.4 384.21,2752.4 386.89,2752.4 389.57,2752.4 392.25,2752.4 394.94,2752.4 397.62,2752.4 400.3,2752.4 402.98,2752.4 405.66,2752.4 408.34,2752.4 411.03,2752.4 413.71,2752.4 416.39,2752.4 419.07,2752.4 421.75,2752.4 424.43,2752.4 427.12,2752.4 429.8,2752.4 432.48,2752.4 435.16,2752.4 437.84,2752.4 440.53,2752.4 443.21,2752.4 445.89,2752.4 448.57,2752.4 451.25,2752.4 453.93,2752.4 456.62,2752.4 459.3,2752.4 461.98,2752.4 464.66,2752.4 467.34,2752.4 470.03,2752.4 472.71,2752.4 475.39,2752.4 478.07,2752.4 480.75,2752.4 483.43,2752.4 486.12,2752.4 488.8,2752.4 491.48,2752.4 494.16,2752.4 496.84,2752.4 499.53,2752.4 502.21,2752.4 504.89,2752.4 507.57,2752.4 510.25,2752.4 512.93,2752.4 515.62,2752.4 518.3,2752.4 520.98,2752.4 523.66,2752.4 526.34,2752.4 529.03,2752.4 531.71,2752.4 534.39,2752.4 537.07,2752.4 539.75,2752.4 542.43,2752.4 545.12,2752.4 547.8,2752.4 550.48,2752.4 553.16,2752.4 555.84,2752.4 558.52,2752.4 561.21,2752.4 563.89,2752.4 566.57,2752.4 569.25,2752.4 571.93,2752.4 574.62,2752.4 577.3,2752.4 579.98,2752.4 582.66,2752.4 585.34,2752.4 588.02,2752.4 590.71,2752.4 593.39,2752.4 596.07,2752.4 598.75,2752.4 601.43,2752.4 604.12,2752.4 606.8,2752.4 609.48,2752.4 612.16,2752.4 614.84,2752.4 617.52,2752.4 620.21,2752.4 622.89,2752.4 625.57,2752.4 628.25,2752.4 630.93,2752.4 633.62,2752.4 636.3,2752.4 638.98,2752.4 641.66,2752.4 644.34,2752.4 647.02,2752.4 649.71,2752.4 652.39,2752.4 655.07,2752.4 657.75,2752.4 660.43,2752.4 663.12,2752.4 665.8,2752.4 668.48,2752.4 671.16,2752.4 673.84,2752.4 676.52,2752.4 679.21,2752.4 681.89,2752.4 684.57,2752.4 687.25,2752.4 689.93,2752.4 692.61,2752.4 695.3,2752.4 697.98,2752.4 700.66,2752.4 703.34,2752.4 706.02,2752.4 708.71,2752.4 711.39,2752.4 714.07,2752.4 716.75,2752.4 719.43,2752.4 722.11,2752.4 724.8,2752.4 727.48,2752.4 730.16,2752.4 732.84,2752.4 735.52,2752.4 738.21,2752.4 740.89,2752.4 743.57,2752.4 746.25,2752.4 748.93,2752.4 751.61,2752.4 754.3,2752.4 756.98,2752.4 759.66,2752.4 762.34,2752.4 765.02,2752.4 767.71,2752.4 770.39,2752.4 773.07,2752.4 775.75,2752.4 778.43,2752.4 781.11,2752.4 783.8,2752.4 786.48,2752.4 789.16,2752.4 791.84,2752.4 794.52,2752.4 797.21,2752.4 799.89,2752.4 802.57,2752.4 805.25,2752.4 807.93,2752.4 810.61,2752.4 813.3,2752.4 815.98,2752.4 818.66,2752.4 821.34,2752.4 824.02,2752.4 826.7,2752.4 829.39,2752.4 832.07,2752.4 834.75,2752.4 837.43,2752.4 840.11,2752.4 842.8,2752.4 845.48,2752.4 848.16,2752.4 850.84,2752.4 853.52,2752.4 856.2,2752.4 858.89,2752.4 861.57,2752.4 864.25,2752.4 866.93,2752.4 869.61,2752.4 872.3,2752.4 874.98,2752.39 877.66,2752.39 880.34,2752.39 883.02,2752.39 885.7,2752.38 888.39,2752.38 891.07,2752.38 893.75,2752.37 896.43,2752.36 899.11,2752.35 901.8,2752.34 904.48,2752.33 907.16,2752.31 909.84,2752.29 912.52,2752.27 915.2,2752.24 917.89,2752.21 920.57,2752.17 923.25,2752.13 925.93,2752.07 928.61,2752.01 931.3,2751.94 933.98,2751.85 936.66,2751.75 939.34,2751.64 942.02,2751.5 944.7,2751.35 947.39,2751.18 950.07,2750.98 952.75,2750.75 955.43,2750.49 958.11,2750.2 960.79,2749.86 963.48,2749.49 966.16,2749.06 968.84,2748.59 971.52,2748.06 974.2,2747.46 976.89,2746.8 979.57,2746.06 982.25,2745.25 984.93,2744.34 987.61,2743.34 990.29,2742.25 992.98,2741.04 995.66,2739.71 998.34,2738.27 1001.02,2736.68 1003.7,2734.96 1006.39,2733.09 1009.07,2731.06 1011.75,2728.86 1014.43,2726.49 1017.11,2723.92 1019.79,2721.17 1022.48,2718.21 1025.16,2715.03 1027.84,2711.64 1030.52,2708.01 1033.2,2704.14 1035.89,2700.03 1038.57,2695.65 1041.25,2691.02 1043.93,2686.11 1046.61,2680.92 1049.29,2675.45 1051.98,2669.69 1054.66,2663.63 1057.34,2657.27 1060.02,2650.6 1062.7,2643.63 1065.39,2636.34 1068.07,2628.73 1070.75,2620.81 1073.43,2612.57 1076.11,2604.02 1078.79,2595.15 1081.48,2585.96 1084.16,2576.46 1086.84,2566.65 1089.52,2556.54 1092.2,2546.12 1094.88,2535.41 1097.57,2524.41 1100.25,2513.13 1102.93,2501.58 1105.61,2489.76 1108.29,2477.68 1110.98,2465.36 1113.66,2452.81 1116.34,2440.03 1119.02,2427.04 1121.7,2413.85 1124.38,2400.47 1127.07,2386.92 1129.75,2373.21 1132.43,2359.36 1135.11,2345.37 1137.79,2331.27 1140.48,2317.06 1143.16,2302.76 1145.84,2288.4 1148.52,2273.97 1151.2,2259.5 1153.88,2245.01 1156.57,2230.5 1159.25,2215.99 1161.93,2201.5 1164.61,2187.04 1167.29,2172.63 1169.98,2158.27 1172.66,2143.99 1175.34,2129.79 1178.02,2115.69 1180.7,2101.69 1183.38,2087.83 1186.07,2074.09 1188.75,2060.5 1191.43,2047.06 1194.11,2033.79 1196.79,2020.69 1199.48,2007.77 1202.16,1995.05 1204.84,1982.52 1207.52,1970.2 1210.2,1958.09 1212.88,1946.2 1215.57,1934.53 1218.25,1923.09 1220.93,1911.88 1223.61,1900.91 1226.29,1890.18 1228.97,1879.69 1231.66,1869.45 1234.34,1859.45 1237.02,1849.7 1239.7,1840.2 1242.38,1830.94 1245.07,1821.94 1247.75,1813.18 1250.43,1804.67 1253.11,1796.4 1255.79,1788.38 1258.47,1780.6 1261.16,1773.06 1263.84,1765.76 1266.52,1758.69 1269.2,1751.85 1271.88,1745.25 1274.57,1738.86 1277.25,1732.7 1279.93,1726.75 1282.61,1721.01 1285.29,1715.48 1287.97,1710.16 1290.66,1705.04 1293.34,1700.11 1296.02,1695.37 1298.7,1690.81 1301.38,1686.44 1304.07,1682.24 1306.75,1678.21 1309.43,1674.35 1312.11,1670.65 1314.79,1667.11 1317.47,1663.72 1320.16,1660.47 1322.84,1657.37 1325.52,1654.41 1328.2,1651.57 1330.88,1648.87 1333.57,1646.29 1336.25,1643.83 1338.93,1641.48 1341.61,1639.25 1344.29,1637.12 1346.97,1635.09 1349.66,1633.16 1352.34,1631.33 1355.02,1629.59 1357.7,1627.93 1360.38,1626.35 1363.06,1624.86 1365.75,1623.44 1368.43,1622.1 1371.11,1620.82 1373.79,1619.62 1376.47,1618.47 1379.16,1617.39 1381.84,1616.36 1384.52,1615.39 1387.2,1614.48 1389.88,1613.61 1392.56,1612.79 1395.25,1612.02 1397.93,1611.29 1400.61,1610.6 1403.29,1609.94 1405.97,1609.33 1408.66,1608.75 1411.34,1608.21 1414.02,1607.69 1416.7,1607.21 1419.38,1606.75 1422.06,1606.33 1424.75,1605.92 1427.43,1605.54 1430.11,1605.19 1432.79,1604.85 1435.47,1604.54 1438.16,1604.24 1440.84,1603.97 1443.52,1603.71 1446.2,1603.46 1448.88,1603.23 1451.56,1603.02 1454.25,1602.82 1456.93,1602.63 1459.61,1602.45 1462.29,1602.29 1464.97,1602.13 1467.66,1601.99 1470.34,1601.85 1473.02,1601.73 1475.7,1601.61 1478.38,1601.5 1481.06,1601.39 1483.75,1601.3 1486.43,1601.21 1489.11,1601.12 1491.79,1601.05 1494.47,1600.97 1497.15,1600.9 1499.84,1600.84 1502.52,1600.78 1505.2,1600.72 1507.88,1600.67 1510.56,1600.63 1513.25,1600.58 1515.93,1600.54 1518.61,1600.5 1521.29,1600.46 1523.97,1600.43 1526.65,1600.4 1529.34,1600.37 1532.02,1600.34 1534.7,1600.32 1537.38,1600.29 1540.06,1600.27 1542.75,1600.25 1545.43,1600.23 1548.11,1600.22 1550.79,1600.2 1553.47,1600.19 1556.15,1600.17 1558.84,1600.16 1561.52,1600.15 1564.2,1600.14" stroke="#FBA688" stroke-width="6.2" fill="none" stroke-linejoin="round" stroke-linecap="round"/>
<path d="M250.12 2750.1h10v5.2h-10zM276.94 2750.1h10v5.2h-10zM303.75 2750.1h10v5.2h-10zM330.57 2750.1h10v5.2h-10zM357.39 2750.1h10v5.2h-10zM384.21 2750.1h10v5.2h-10zM411.03 2750.1h10v5.2h-10zM437.84 2750.1h10v5.2h-10zM464.66 2750.1h10v5.2h-10zM491.48 2750.1h10v5.2h-10zM518.3 2750.1h10v5.2h-10zM545.12 2750.1h10v5.2h-10zM571.93 2750.1h10v5.2h-10zM598.75 2750.1h10v5.2h-10zM625.57 2750.1h10v5.2h-10zM652.39 2750.1h10v5.2h-10zM679.21 2750.1h10v5.2h-10zM706.02 2750.1h10v5.2h-10zM732.84 2750.1h10v5.2h-10zM759.66 2750.1h10v5.2h-10zM786.48 2750.1h10v5.2h-10zM813.3 2750.1h10v5.2h-10zM840.11 2750.1h10v5.2h-10zM866.93 2750.1h10v5.2h-10zM893.75 2750.07h10v5.2h-10zM920.57 2749.87h10v5.2h-10zM947.39 2748.88h10v5.2h-10zM974.2 2745.16h10v5.2h-10zM1001.02 2734.38h10v5.2h-10zM1027.84 2709.34h10v5.2h-10zM1054.66 2661.33h10v5.2h-10zM1081.48 2583.66h10v5.2h-10zM1108.29 2475.38h10v5.2h-10zM1135.11 2343.07h10v5.2h-10zM1161.93 2199.2h10v5.2h-10zM1188.75 2058.2h10v5.2h-10zM1215.57 1932.23h10v5.2h-10zM1242.38 1828.64h10v5.2h-10zM1269.2 1749.55h10v5.2h-10zM1296.02 1693.07h10v5.2h-10zM1322.84 1655.07h10v5.2h-10zM1349.66 1630.86h10v5.2h-10zM1376.47 1616.17h10v5.2h-10zM1403.29 1607.64h10v5.2h-10zM1430.11 1602.89h10v5.2h-10zM1456.93 1600.33h10v5.2h-10zM1483.75 1599h10v5.2h-10zM1510.56 1598.33h10v5.2h-10zM1537.38 1597.99h10v5.2h-10zM1564.2 1597.84h10v5.2h-10z" fill="#FBA688"/>
<polyline points="250.12,2752.4 252.8,2752.4 255.48,2752.4 258.16,2752.4 260.85,2752.4 263.53,2752.4 266.21,2752.4 268.89,2752.4 271.57,2752.4 274.25,2752.4 276.94,2752.4 279.62,2752.4 282.3,2752.4 284.98,2752.4 287.66,2752.4 290.34,2752.4 293.03,2752.4 295.71,2752.4 298.39,2752.4 301.07,2752.4 303.75,2752.4 306.44,2752.4 309.12,2752.4 311.8,2752.4 314.48,2752.4 317.16,2752.4 319.84,2752.4 322.53,2752.4 325.21,2752.4 327.89,2752.4 330.57,2752.4 333.25,2752.4 335.94,2752.4 338.62,2752.4 341.3,2752.4 343.98,2752.4 346.66,2752.4 349.34,2752.4 352.03,2752.4 354.71,2752.4 357.39,2752.4 360.07,2752.4 362.75,2752.4 365.44,2752.4 368.12,2752.4 370.8,2752.4 373.48,2752.4 376.16,2752.4 378.84,2752.4 381.53,2752.4 384.21,2752.4 386.89,2752.4 389.57,2752.4 392.25,2752.4 394.94,2752.4 397.62,2752.4 400.3,2752.4 402.98,2752.4 405.66,2752.4 408.34,2752.4 411.03,2752.4 413.71,2752.4 416.39,2752.4 419.07,2752.4 421.75,2752.4 424.43,2752.4 427.12,2752.4 429.8,2752.4 432.48,2752.4 435.16,2752.4 437.84,2752.4 440.53,2752.4 443.21,2752.4 445.89,2752.4 448.57,2752.4 451.25,2752.4 453.93,2752.4 456.62,2752.4 459.3,2752.4 461.98,2752.4 464.66,2752.4 467.34,2752.4 470.03,2752.4 472.71,2752.4 475.39,2752.4 478.07,2752.4 480.75,2752.4 483.43,2752.4 486.12,2752.4 488.8,2752.4 491.48,2752.4 494.16,2752.4 496.84,2752.4 499.53,2752.4 502.21,2752.4 504.89,2752.4 507.57,2752.4 510.25,2752.4 512.93,2752.4 515.62,2752.4 518.3,2752.4 520.98,2752.4 523.66,2752.4 526.34,2752.4 529.03,2752.4 531.71,2752.4 534.39,2752.4 537.07,2752.4 539.75,2752.4 542.43,2752.4 545.12,2752.4 547.8,2752.4 550.48,2752.4 553.16,2752.4 555.84,2752.4 558.52,2752.4 561.21,2752.4 563.89,2752.4 566.57,2752.4 569.25,2752.4 571.93,2752.4 574.62,2752.4 577.3,2752.4 579.98,2752.4 582.66,2752.4 585.34,2752.4 588.02,2752.4 590.71,2752.4 593.39,2752.4 596.07,2752.4 598.75,2752.4 601.43,2752.4 604.12,2752.4 606.8,2752.4 609.48,2752.4 612.16,2752.4 614.84,2752.4 617.52,2752.4 620.21,2752.4 622.89,2752.4 625.57,2752.4 628.25,2752.4 630.93,2752.4 633.62,2752.4 636.3,2752.4 638.98,2752.4 641.66,2752.4 644.34,2752.4 647.02,2752.4 649.71,2752.4 652.39,2752.4 655.07,2752.4 657.75,2752.4 660.43,2752.4 663.12,2752.4 665.8,2752.4 668.48,2752.4 671.16,2752.4 673.84,2752.4 676.52,2752.4 679.21,2752.4 681.89,2752.4 684.57,2752.4 687.25,2752.4 689.93,2752.4 692.61,2752.4 695.3,2752.4 697.98,2752.4 700.66,2752.4 703.34,2752.4 706.02,2752.4 708.71,2752.4 711.39,2752.4 714.07,2752.4 716.75,2752.4 719.43,2752.4 722.11,2752.4 724.8,2752.4 727.48,2752.4 730.16,2752.4 732.84,2752.4 735.52,2752.4 738.21,2752.4 740.89,2752.4 743.57,2752.4 746.25,2752.4 748.93,2752.4 751.61,2752.4 754.3,2752.39 756.98,2752.39 759.66,2752.39 762.34,2752.39 765.02,2752.39 767.71,2752.39 770.39,2752.38 773.07,2752.38 775.75,2752.38 778.43,2752.37 781.11,2752.37 783.8,2752.36 786.48,2752.35 789.16,2752.34 791.84,2752.34 794.52,2752.32 797.21,2752.31 799.89,2752.3 802.57,2752.28 805.25,2752.26 807.93,2752.24 810.61,2752.21 813.3,2752.18 815.98,2752.15 818.66,2752.11 821.34,2752.07 824.02,2752.02 826.7,2751.97 829.39,2751.91 832.07,2751.85 834.75,2751.77 837.43,2751.69 840.11,2751.6 842.8,2751.5 845.48,2751.39 848.16,2751.26 850.84,2751.12 853.52,2750.97 856.2,2750.81 858.89,2750.62 861.57,2750.42 864.25,2750.2 866.93,2749.97 869.61,2749.7 872.3,2749.42 874.98,2749.11 877.66,2748.77 880.34,2748.41 883.02,2748.01 885.7,2747.59 888.39,2747.13 891.07,2746.63 893.75,2746.1 896.43,2745.52 899.11,2744.9 901.8,2744.24 904.48,2743.53 907.16,2742.78 909.84,2741.97 912.52,2741.1 915.2,2740.19 917.89,2739.21 920.57,2738.17 923.25,2737.06 925.93,2735.89 928.61,2734.65 931.3,2733.34 933.98,2731.96 936.66,2730.49 939.34,2728.95 942.02,2727.32 944.7,2725.61 947.39,2723.82 950.07,2721.93 952.75,2719.95 955.43,2717.87 958.11,2715.7 960.79,2713.43 963.48,2711.05 966.16,2708.57 968.84,2705.99 971.52,2703.29 974.2,2700.48 976.89,2697.56 979.57,2694.53 982.25,2691.38 984.93,2688.11 987.61,2684.72 990.29,2681.21 992.98,2677.58 995.66,2673.82 998.34,2669.94 1001.02,2665.93 1003.7,2661.79 1006.39,2657.53 1009.07,2653.13 1011.75,2648.61 1014.43,2643.96 1017.11,2639.18 1019.79,2634.27 1022.48,2629.22 1025.16,2624.05 1027.84,2618.75 1030.52,2613.32 1033.2,2607.77 1035.89,2602.08 1038.57,2596.27 1041.25,2590.33 1043.93,2584.27 1046.61,2578.08 1049.29,2571.78 1051.98,2565.35 1054.66,2558.8 1057.34,2552.14 1060.02,2545.36 1062.7,2538.47 1065.39,2531.47 1068.07,2524.37 1070.75,2517.15 1073.43,2509.83 1076.11,2502.41 1078.79,2494.9 1081.48,2487.28 1084.16,2479.58 1086.84,2471.79 1089.52,2463.91 1092.2,2455.94 1094.88,2447.9 1097.57,2439.78 1100.25,2431.58 1102.93,2423.32 1105.61,2414.99 1108.29,2406.6 1110.98,2398.14 1113.66,2389.64 1116.34,2381.07 1119.02,2372.46 1121.7,2363.81 1124.38,2355.11 1127.07,2346.37 1129.75,2337.6 1132.43,2328.8 1135.11,2319.98 1137.79,2311.13 1140.48,2302.26 1143.16,2293.37 1145.84,2284.47 1148.52,2275.56 1151.2,2266.65 1153.88,2257.74 1156.57,2248.82 1159.25,2239.91 1161.93,2231.01 1164.61,2222.13 1167.29,2213.25 1169.98,2204.4 1172.66,2195.57 1175.34,2186.76 1178.02,2177.98 1180.7,2169.23 1183.38,2160.51 1186.07,2151.83 1188.75,2143.19 1191.43,2134.59 1194.11,2126.04 1196.79,2117.53 1199.48,2109.07 1202.16,2100.67 1204.84,2092.32 1207.52,2084.02 1210.2,2075.79 1212.88,2067.62 1215.57,2059.51 1218.25,2051.46 1220.93,2043.48 1223.61,2035.58 1226.29,2027.74 1228.97,2019.97 1231.66,2012.28 1234.34,2004.66 1237.02,1997.12 1239.7,1989.66 1242.38,1982.27 1245.07,1974.97 1247.75,1967.75 1250.43,1960.61 1253.11,1953.55 1255.79,1946.58 1258.47,1939.69 1261.16,1932.89 1263.84,1926.17 1266.52,1919.55 1269.2,1913.01 1271.88,1906.55 1274.57,1900.19 1277.25,1893.91 1279.93,1887.72 1282.61,1881.63 1285.29,1875.62 1287.97,1869.7 1290.66,1863.86 1293.34,1858.12 1296.02,1852.47 1298.7,1846.91 1301.38,1841.43 1304.07,1836.05 1306.75,1830.75 1309.43,1825.54 1312.11,1820.41 1314.79,1815.38 1317.47,1810.43 1320.16,1805.57 1322.84,1800.79 1325.52,1796.1 1328.2,1791.49 1330.88,1786.97 1333.57,1782.53 1336.25,1778.17 1338.93,1773.89 1341.61,1769.7 1344.29,1765.59 1346.97,1761.55 1349.66,1757.59 1352.34,1753.72 1355.02,1749.92 1357.7,1746.19 1360.38,1742.54 1363.06,1738.97 1365.75,1735.47 1368.43,1732.04 1371.11,1728.68 1373.79,1725.39 1376.47,1722.18 1379.16,1719.03 1381.84,1715.95 1384.52,1712.94 1387.2,1709.99 1389.88,1707.11 1392.56,1704.29 1395.25,1701.54 1397.93,1698.85 1400.61,1696.21 1403.29,1693.64 1405.97,1691.13 1408.66,1688.67 1411.34,1686.28 1414.02,1683.94 1416.7,1681.65 1419.38,1679.42 1422.06,1677.24 1424.75,1675.11 1427.43,1673.04 1430.11,1671.01 1432.79,1669.04 1435.47,1667.11 1438.16,1665.23 1440.84,1663.4 1443.52,1661.61 1446.2,1659.86 1448.88,1658.17 1451.56,1656.51 1454.25,1654.9 1456.93,1653.32 1459.61,1651.79 1462.29,1650.3 1464.97,1648.84 1467.66,1647.43 1470.34,1646.05 1473.02,1644.7 1475.7,1643.4 1478.38,1642.12 1481.06,1640.88 1483.75,1639.68 1486.43,1638.5 1489.11,1637.36 1491.79,1636.25 1494.47,1635.17 1497.15,1634.12 1499.84,1633.09 1502.52,1632.1 1505.2,1631.13 1507.88,1630.19 1510.56,1629.27 1513.25,1628.39 1515.93,1627.52 1518.61,1626.68 1521.29,1625.86 1523.97,1625.07 1526.65,1624.3 1529.34,1623.55 1532.02,1622.82 1534.7,1622.12 1537.38,1621.43 1540.06,1620.77 1542.75,1620.12 1545.43,1619.49 1548.11,1618.88 1550.79,1618.29 1553.47,1617.71 1556.15,1617.16 1558.84,1616.61 1561.52,1616.09 1564.2,1615.58" stroke="#000000" stroke-width="6.6" fill="none" stroke-linejoin="round" stroke-linecap="round"/>
<path d="M240.12 2749.4h20v6h-20zM266.94 2749.4h20v6h-20zM293.75 2749.4h20v6h-20zM320.57 2749.4h20v6h-20zM347.39 2749.4h20v6h-20zM374.21 2749.4h20v6h-20zM401.03 2749.4h20v6h-20zM427.84 2749.4h20v6h-20zM454.66 2749.4h20v6h-20zM481.48 2749.4h20v6h-20zM508.3 2749.4h20v6h-20zM535.12 2749.4h20v6h-20zM561.93 2749.4h20v6h-20zM588.75 2749.4h20v6h-20zM615.57 2749.4h20v6h-20zM642.39 2749.4h20v6h-20zM669.21 2749.4h20v6h-20zM696.02 2749.4h20v6h-20zM722.84 2749.4h20v6h-20zM749.66 2749.39h20v6h-20zM776.48 2749.35h20v6h-20zM803.3 2749.18h20v6h-20zM830.11 2748.6h20v6h-20zM856.93 2746.97h20v6h-20zM883.75 2743.1h20v6h-20zM910.57 2735.17h20v6h-20zM937.39 2720.82h20v6h-20zM964.2 2697.48h20v6h-20zM991.02 2662.93h20v6h-20zM1017.84 2615.75h20v6h-20zM1044.66 2555.8h20v6h-20zM1071.48 2484.28h20v6h-20zM1098.29 2403.6h20v6h-20zM1125.11 2316.98h20v6h-20zM1151.93 2228.01h20v6h-20zM1178.75 2140.19h20v6h-20zM1205.57 2056.51h20v6h-20zM1232.38 1979.27h20v6h-20zM1259.2 1910.01h20v6h-20zM1286.02 1849.47h20v6h-20zM1312.84 1797.79h20v6h-20zM1339.66 1754.59h20v6h-20zM1366.47 1719.18h20v6h-20zM1393.29 1690.64h20v6h-20zM1420.11 1668.01h20v6h-20zM1446.93 1650.32h20v6h-20zM1473.75 1636.68h20v6h-20zM1500.56 1626.27h20v6h-20zM1527.38 1618.43h20v6h-20zM1554.2 1612.58h20v6h-20z" fill="#BFBFBF"/>
<polyline points="250.12,2752.4 252.8,2752.4 255.48,2752.4 258.16,2752.4 260.85,2752.4 263.53,2752.4 266.21,2752.4 268.89,2752.4 271.57,2752.4 274.25,2752.4 276.94,2752.4 279.62,2752.4 282.3,2752.4 284.98,2752.4 287.66,2752.4 290.34,2752.4 293.03,2752.4 295.71,2752.4 298.39,2752.4 301.07,2752.4 303.75,2752.4 306.44,2752.4 309.12,2752.4 311.8,2752.4 314.48,2752.4 317.16,2752.4 319.84,2752.4 322.53,2752.4 325.21,2752.4 327.89,2752.4 330.57,2752.4 333.25,2752.4 335.94,2752.4 338.62,2752.4 341.3,2752.4 343.98,2752.4 346.66,2752.4 349.34,2752.4 352.03,2752.4 354.71,2752.4 357.39,2752.4 360.07,2752.4 362.75,2752.4 365.44,2752.4 368.12,2752.4 370.8,2752.4 373.48,2752.4 376.16,2752.4 378.84,2752.4 381.53,2752.4 384.21,2752.4 386.89,2752.4 389.57,2752.4 392.25,2752.4 394.94,2752.4 397.62,2752.4 400.3,2752.4 402.98,2752.4 405.66,2752.4 408.34,2752.4 411.03,2752.4 413.71,2752.4 416.39,2752.4 419.07,2752.4 421.75,2752.4 424.43,2752.4 427.12,2752.4 429.8,2752.4 432.48,2752.4 435.16,2752.4 437.84,2752.4 440.53,2752.4 443.21,2752.4 445.89,2752.4 448.57,2752.4 451.25,2752.4 453.93,2752.4 456.62,2752.4 459.3,2752.4 461.98,2752.4 464.66,2752.4 467.34,2752.4 470.03,2752.4 472.71,2752.4 475.39,2752.4 478.07,2752.4 480.75,2752.4 483.43,2752.4 486.12,2752.4 488.8,2752.4 491.48,2752.4 494.16,2752.4 496.84,2752.4 499.53,2752.4 502.21,2752.4 504.89,2752.4 507.57,2752.4 510.25,2752.4 512.93,2752.4 515.62,2752.4 518.3,2752.4 520.98,2752.4 523.66,2752.4 526.34,2752.4 529.03,2752.4 531.71,2752.4 534.39,2752.4 537.07,2752.4 539.75,2752.4 542.43,2752.4 545.12,2752.4 547.8,2752.4 550.48,2752.4 553.16,2752.4 555.84,2752.4 558.52,2752.4 561.21,2752.4 563.89,2752.4 566.57,2752.4 569.25,2752.4 571.93,2752.4 574.62,2752.4 577.3,2752.4 579.98,2752.4 582.66,2752.4 585.34,2752.4 588.02,2752.4 590.71,2752.4 593.39,2752.4 596.07,2752.4 598.75,2752.4 601.43,2752.4 604.12,2752.4 606.8,2752.4 609.48,2752.4 612.16,2752.4 614.84,2752.4 617.52,2752.4 620.21,2752.4 622.89,2752.4 625.57,2752.4 628.25,2752.4 630.93,2752.4 633.62,2752.4 636.3,2752.4 638.98,2752.4 641.66,2752.4 644.34,2752.4 647.02,2752.4 649.71,2752.4 652.39,2752.4 655.07,2752.4 657.75,2752.4 660.43,2752.4 663.12,2752.4 665.8,2752.4 668.48,2752.4 671.16,2752.4 673.84,2752.4 676.52,2752.4 679.21,2752.4 681.89,2752.39 684.57,2752.39 687.25,2752.39 689.93,2752.39 692.61,2752.39 695.3,2752.38 697.98,2752.38 700.66,2752.38 703.34,2752.37 706.02,2752.37 708.71,2752.36 711.39,2752.36 714.07,2752.35 716.75,2752.34 719.43,2752.33 722.11,2752.32 724.8,2752.31 727.48,2752.29 730.16,2752.28 732.84,2752.26 735.52,2752.24 738.21,2752.22 740.89,2752.19 743.57,2752.16 746.25,2752.13 748.93,2752.09 751.61,2752.05 754.3,2752.01 756.98,2751.96 759.66,2751.9 762.34,2751.84 765.02,2751.77 767.71,2751.7 770.39,2751.62 773.07,2751.53 775.75,2751.43 778.43,2751.32 781.11,2751.2 783.8,2751.08 786.48,2750.94 789.16,2750.79 791.84,2750.62 794.52,2750.45 797.21,2750.26 799.89,2750.05 802.57,2749.82 805.25,2749.58 807.93,2749.33 810.61,2749.05 813.3,2748.75 815.98,2748.43 818.66,2748.09 821.34,2747.72 824.02,2747.33 826.7,2746.92 829.39,2746.48 832.07,2746.01 834.75,2745.51 837.43,2744.97 840.11,2744.41 842.8,2743.82 845.48,2743.19 848.16,2742.52 850.84,2741.82 853.52,2741.07 856.2,2740.29 858.89,2739.47 861.57,2738.6 864.25,2737.69 866.93,2736.74 869.61,2735.74 872.3,2734.69 874.98,2733.59 877.66,2732.44 880.34,2731.24 883.02,2729.99 885.7,2728.68 888.39,2727.32 891.07,2725.89 893.75,2724.41 896.43,2722.88 899.11,2721.28 901.8,2719.61 904.48,2717.89 907.16,2716.1 909.84,2714.25 912.52,2712.33 915.2,2710.34 917.89,2708.29 920.57,2706.16 923.25,2703.97 925.93,2701.7 928.61,2699.37 931.3,2696.96 933.98,2694.47 936.66,2691.92 939.34,2689.29 942.02,2686.58 944.7,2683.8 947.39,2680.95 950.07,2678.02 952.75,2675.01 955.43,2671.92 958.11,2668.76 960.79,2665.52 963.48,2662.2 966.16,2658.8 968.84,2655.33 971.52,2651.78 974.2,2648.15 976.89,2644.44 979.57,2640.66 982.25,2636.8 984.93,2632.86 987.61,2628.85 990.29,2624.76 992.98,2620.59 995.66,2616.35 998.34,2612.04 1001.02,2607.65 1003.7,2603.18 1006.39,2598.65 1009.07,2594.04 1011.75,2589.36 1014.43,2584.61 1017.11,2579.79 1019.79,2574.91 1022.48,2569.95 1025.16,2564.93 1027.84,2559.84 1030.52,2554.69 1033.2,2549.47 1035.89,2544.2 1038.57,2538.86 1041.25,2533.46 1043.93,2528 1046.61,2522.49 1049.29,2516.92 1051.98,2511.29 1054.66,2505.61 1057.34,2499.88 1060.02,2494.1 1062.7,2488.27 1065.39,2482.39 1068.07,2476.47 1070.75,2470.5 1073.43,2464.48 1076.11,2458.43 1078.79,2452.34 1081.48,2446.2 1084.16,2440.03 1086.84,2433.83 1089.52,2427.59 1092.2,2421.32 1094.88,2415.01 1097.57,2408.68 1100.25,2402.32 1102.93,2395.94 1105.61,2389.53 1108.29,2383.09 1110.98,2376.64 1113.66,2370.17 1116.34,2363.67 1119.02,2357.17 1121.7,2350.64 1124.38,2344.11 1127.07,2337.56 1129.75,2331 1132.43,2324.43 1135.11,2317.86 1137.79,2311.28 1140.48,2304.69 1143.16,2298.11 1145.84,2291.52 1148.52,2284.93 1151.2,2278.34 1153.88,2271.76 1156.57,2265.18 1159.25,2258.61 1161.93,2252.04 1164.61,2245.48 1167.29,2238.94 1169.98,2232.4 1172.66,2225.88 1175.34,2219.36 1178.02,2212.87 1180.7,2206.39 1183.38,2199.93 1186.07,2193.48 1188.75,2187.06 1191.43,2180.66 1194.11,2174.28 1196.79,2167.92 1199.48,2161.58 1202.16,2155.27 1204.84,2148.99 1207.52,2142.73 1210.2,2136.5 1212.88,2130.3 1215.57,2124.13 1218.25,2117.99 1220.93,2111.89 1223.61,2105.81 1226.29,2099.77 1228.97,2093.76 1231.66,2087.79 1234.34,2081.85 1237.02,2075.94 1239.7,2070.08 1242.38,2064.25 1245.07,2058.46 1247.75,2052.7 1250.43,2046.99 1253.11,2041.32 1255.79,2035.68 1258.47,2030.09 1261.16,2024.54 1263.84,2019.03 1266.52,2013.56 1269.2,2008.14 1271.88,2002.75 1274.57,1997.41 1277.25,1992.12 1279.93,1986.87 1282.61,1981.66 1285.29,1976.5 1287.97,1971.38 1290.66,1966.31 1293.34,1961.28 1296.02,1956.3 1298.7,1951.36 1301.38,1946.47 1304.07,1941.62 1306.75,1936.82 1309.43,1932.07 1312.11,1927.37 1314.79,1922.71 1317.47,1918.09 1320.16,1913.53 1322.84,1909.01 1325.52,1904.53 1328.2,1900.1 1330.88,1895.72 1333.57,1891.39 1336.25,1887.1 1338.93,1882.86 1341.61,1878.66 1344.29,1874.52 1346.97,1870.41 1349.66,1866.36 1352.34,1862.35 1355.02,1858.38 1357.7,1854.46 1360.38,1850.59 1363.06,1846.76 1365.75,1842.98 1368.43,1839.24 1371.11,1835.54 1373.79,1831.9 1376.47,1828.29 1379.16,1824.73 1381.84,1821.21 1384.52,1817.74 1387.2,1814.31 1389.88,1810.93 1392.56,1807.58 1395.25,1804.28 1397.93,1801.03 1400.61,1797.81 1403.29,1794.64 1405.97,1791.5 1408.66,1788.41 1411.34,1785.36 1414.02,1782.35 1416.7,1779.38 1419.38,1776.45 1422.06,1773.57 1424.75,1770.72 1427.43,1767.9 1430.11,1765.13 1432.79,1762.4 1435.47,1759.7 1438.16,1757.05 1440.84,1754.42 1443.52,1751.84 1446.2,1749.29 1448.88,1746.78 1451.56,1744.31 1454.25,1741.87 1456.93,1739.47 1459.61,1737.1 1462.29,1734.77 1464.97,1732.47 1467.66,1730.2 1470.34,1727.97 1473.02,1725.77 1475.7,1723.61 1478.38,1721.47 1481.06,1719.37 1483.75,1717.3 1486.43,1715.26 1489.11,1713.26 1491.79,1711.28 1494.47,1709.33 1497.15,1707.42 1499.84,1705.53 1502.52,1703.68 1505.2,1701.85 1507.88,1700.05 1510.56,1698.28 1513.25,1696.54 1515.93,1694.82 1518.61,1693.13 1521.29,1691.47 1523.97,1689.84 1526.65,1688.23 1529.34,1686.64 1532.02,1685.09 1534.7,1683.55 1537.38,1682.05 1540.06,1680.57 1542.75,1679.11 1545.43,1677.67 1548.11,1676.26 1550.79,1674.87 1553.47,1673.51 1556.15,1672.17 1558.84,1670.85 1561.52,1669.55 1564.2,1668.27" stroke="#188AC3" stroke-width="6.1" fill="none" stroke-linejoin="round" stroke-linecap="round"/>
<path d="M248.72 2742.5H251.52L260.52 2750.8V2754L251.52 2762.3H248.72L239.72 2754V2750.8zM275.54 2742.5H278.34L287.34 2750.8V2754L278.34 2762.3H275.54L266.54 2754V2750.8zM302.35 2742.5H305.15L314.15 2750.8V2754L305.15 2762.3H302.35L293.35 2754V2750.8zM329.17 2742.5H331.97L340.97 2750.8V2754L331.97 2762.3H329.17L320.17 2754V2750.8zM355.99 2742.5H358.79L367.79 2750.8V2754L358.79 2762.3H355.99L346.99 2754V2750.8zM382.81 2742.5H385.61L394.61 2750.8V2754L385.61 2762.3H382.81L373.81 2754V2750.8zM409.63 2742.5H412.43L421.43 2750.8V2754L412.43 2762.3H409.63L400.63 2754V2750.8zM436.44 2742.5H439.24L448.24 2750.8V2754L439.24 2762.3H436.44L427.44 2754V2750.8zM463.26 2742.5H466.06L475.06 2750.8V2754L466.06 2762.3H463.26L454.26 2754V2750.8zM490.08 2742.5H492.88L501.88 2750.8V2754L492.88 2762.3H490.08L481.08 2754V2750.8zM516.9 2742.5H519.7L528.7 2750.8V2754L519.7 2762.3H516.9L507.9 2754V2750.8zM543.72 2742.5H546.52L555.52 2750.8V2754L546.52 2762.3H543.72L534.72 2754V2750.8zM570.53 2742.5H573.33L582.33 2750.8V2754L573.33 2762.3H570.53L561.53 2754V2750.8zM597.35 2742.5H600.15L609.15 2750.8V2754L600.15 2762.3H597.35L588.35 2754V2750.8zM624.17 2742.5H626.97L635.97 2750.8V2754L626.97 2762.3H624.17L615.17 2754V2750.8zM650.99 2742.5H653.79L662.79 2750.8V2754L653.79 2762.3H650.99L641.99 2754V2750.8zM677.81 2742.5H680.61L689.61 2750.8V2754L680.61 2762.3H677.81L668.81 2754V2750.8zM704.62 2742.47H707.42L716.42 2750.77V2753.97L707.42 2762.27H704.62L695.62 2753.97V2750.77zM731.44 2742.36H734.24L743.24 2750.66V2753.86L734.24 2762.16H731.44L722.44 2753.86V2750.66zM758.26 2742H761.06L770.06 2750.3V2753.5L761.06 2761.8H758.26L749.26 2753.5V2750.3zM785.08 2741.04H787.88L796.88 2749.34V2752.54L787.88 2760.84H785.08L776.08 2752.54V2749.34zM811.9 2738.85H814.7L823.7 2747.15V2750.35L814.7 2758.65H811.9L802.9 2750.35V2747.15zM838.71 2734.51H841.51L850.51 2742.81V2746.01L841.51 2754.31H838.71L829.71 2746.01V2742.81zM865.53 2726.84H868.33L877.33 2735.14V2738.34L868.33 2746.64H865.53L856.53 2738.34V2735.14zM892.35 2714.51H895.15L904.15 2722.81V2726.01L895.15 2734.31H892.35L883.35 2726.01V2722.81zM919.17 2696.26H921.97L930.97 2704.56V2707.76L921.97 2716.06H919.17L910.17 2707.76V2704.56zM945.99 2671.05H948.79L957.79 2679.35V2682.55L948.79 2690.85H945.99L936.99 2682.55V2679.35zM972.8 2638.25H975.6L984.6 2646.55V2649.75L975.6 2658.05H972.8L963.8 2649.75V2646.55zM999.62 2597.75H1002.42L1011.42 2606.05V2609.25L1002.42 2617.55H999.62L990.62 2609.25V2606.05zM1026.44 2549.94H1029.24L1038.24 2558.24V2561.44L1029.24 2569.74H1026.44L1017.44 2561.44V2558.24zM1053.26 2495.71H1056.06L1065.06 2504.01V2507.21L1056.06 2515.51H1053.26L1044.26 2507.21V2504.01zM1080.08 2436.3H1082.88L1091.88 2444.6V2447.8L1082.88 2456.1H1080.08L1071.08 2447.8V2444.6zM1106.89 2373.19H1109.69L1118.69 2381.49V2384.69L1109.69 2392.99H1106.89L1097.89 2384.69V2381.49zM1133.71 2307.96H1136.51L1145.51 2316.26V2319.46L1136.51 2327.76H1133.71L1124.71 2319.46V2316.26zM1160.53 2242.14H1163.33L1172.33 2250.44V2253.64L1163.33 2261.94H1160.53L1151.53 2253.64V2250.44zM1187.35 2177.16H1190.15L1199.15 2185.46V2188.66L1190.15 2196.96H1187.35L1178.35 2188.66V2185.46zM1214.17 2114.23H1216.97L1225.97 2122.53V2125.73L1216.97 2134.03H1214.17L1205.17 2125.73V2122.53zM1240.98 2054.35H1243.78L1252.78 2062.65V2065.85L1243.78 2074.15H1240.98L1231.98 2065.85V2062.65zM1267.8 1998.24H1270.6L1279.6 2006.54V2009.74L1270.6 2018.04H1267.8L1258.8 2009.74V2006.54zM1294.62 1946.4H1297.42L1306.42 1954.7V1957.9L1297.42 1966.2H1294.62L1285.62 1957.9V1954.7zM1321.44 1899.11H1324.24L1333.24 1907.41V1910.61L1324.24 1918.91H1321.44L1312.44 1910.61V1907.41zM1348.26 1856.46H1351.06L1360.06 1864.76V1867.96L1351.06 1876.26H1348.26L1339.26 1867.96V1864.76zM1375.07 1818.39H1377.87L1386.87 1826.69V1829.89L1377.87 1838.19H1375.07L1366.07 1829.89V1826.69zM1401.89 1784.74H1404.69L1413.69 1793.04V1796.24L1404.69 1804.54H1401.89L1392.89 1796.24V1793.04zM1428.71 1755.23H1431.51L1440.51 1763.53V1766.73L1431.51 1775.03H1428.71L1419.71 1766.73V1763.53zM1455.53 1729.57H1458.33L1467.33 1737.87V1741.07L1458.33 1749.37H1455.53L1446.53 1741.07V1737.87zM1482.35 1707.4H1485.15L1494.15 1715.7V1718.9L1485.15 1727.2H1482.35L1473.35 1718.9V1715.7zM1509.16 1688.38H1511.96L1520.96 1696.68V1699.88L1511.96 1708.18H1509.16L1500.16 1699.88V1696.68zM1535.98 1672.15H1538.78L1547.78 1680.45V1683.65L1538.78 1691.95H1535.98L1526.98 1683.65V1680.45zM1562.8 1658.37H1565.6L1574.6 1666.67V1669.87L1565.6 1678.17H1562.8L1553.8 1669.87V1666.67z" fill="#188AC3"/>
<polyline points="250.12,2752.4 252.8,2752.4 255.48,2752.4 258.16,2752.4 260.85,2752.4 263.53,2752.4 266.21,2752.4 268.89,2752.4 271.57,2752.4 274.25,2752.4 276.94,2752.4 279.62,2752.4 282.3,2752.4 284.98,2752.4 287.66,2752.4 290.34,2752.4 293.03,2752.4 295.71,2752.4 298.39,2752.4 301.07,2752.4 303.75,2752.4 306.44,2752.4 309.12,2752.4 311.8,2752.4 314.48,2752.4 317.16,2752.4 319.84,2752.4 322.53,2752.4 325.21,2752.4 327.89,2752.4 330.57,2752.4 333.25,2752.4 335.94,2752.4 338.62,2752.4 341.3,2752.4 343.98,2752.4 346.66,2752.4 349.34,2752.4 352.03,2752.4 354.71,2752.4 357.39,2752.4 360.07,2752.4 362.75,2752.4 365.44,2752.4 368.12,2752.4 370.8,2752.4 373.48,2752.4 376.16,2752.4 378.84,2752.4 381.53,2752.4 384.21,2752.4 386.89,2752.4 389.57,2752.4 392.25,2752.4 394.94,2752.4 397.62,2752.4 400.3,2752.4 402.98,2752.4 405.66,2752.4 408.34,2752.4 411.03,2752.4 413.71,2752.4 416.39,2752.4 419.07,2752.4 421.75,2752.4 424.43,2752.4 427.12,2752.4 429.8,2752.4 432.48,2752.4 435.16,2752.4 437.84,2752.4 440.53,2752.4 443.21,2752.4 445.89,2752.4 448.57,2752.4 451.25,2752.4 453.93,2752.4 456.62,2752.4 459.3,2752.4 461.98,2752.4 464.66,2752.4 467.34,2752.4 470.03,2752.4 472.71,2752.4 475.39,2752.4 478.07,2752.4 480.75,2752.4 483.43,2752.4 486.12,2752.4 488.8,2752.4 491.48,2752.4 494.16,2752.4 496.84,2752.4 499.53,2752.4 502.21,2752.4 504.89,2752.4 507.57,2752.4 510.25,2752.4 512.93,2752.4 515.62,2752.4 518.3,2752.4 520.98,2752.4 523.66,2752.4 526.34,2752.4 529.03,2752.4 531.71,2752.4 534.39,2752.4 537.07,2752.4 539.75,2752.4 542.43,2752.4 545.12,2752.4 547.8,2752.4 550.48,2752.4 553.16,2752.4 555.84,2752.4 558.52,2752.4 561.21,2752.4 563.89,2752.4 566.57,2752.4 569.25,2752.4 571.93,2752.4 574.62,2752.4 577.3,2752.4 579.98,2752.4 582.66,2752.4 585.34,2752.4 588.02,2752.4 590.71,2752.4 593.39,2752.4 596.07,2752.4 598.75,2752.4 601.43,2752.4 604.12,2752.4 606.8,2752.4 609.48,2752.39 612.16,2752.39 614.84,2752.39 617.52,2752.39 620.21,2752.39 622.89,2752.38 625.57,2752.38 628.25,2752.38 630.93,2752.37 633.62,2752.37 636.3,2752.36 638.98,2752.36 641.66,2752.35 644.34,2752.34 647.02,2752.33 649.71,2752.32 652.39,2752.31 655.07,2752.29 657.75,2752.27 660.43,2752.26 663.12,2752.24 665.8,2752.21 668.48,2752.19 671.16,2752.16 673.84,2752.12 676.52,2752.09 679.21,2752.05 681.89,2752.01 684.57,2751.96 687.25,2751.9 689.93,2751.85 692.61,2751.78 695.3,2751.71 697.98,2751.64 700.66,2751.55 703.34,2751.46 706.02,2751.36 708.71,2751.26 711.39,2751.14 714.07,2751.02 716.75,2750.88 719.43,2750.74 722.11,2750.58 724.8,2750.41 727.48,2750.23 730.16,2750.04 732.84,2749.83 735.52,2749.61 738.21,2749.38 740.89,2749.13 743.57,2748.86 746.25,2748.57 748.93,2748.27 751.61,2747.95 754.3,2747.61 756.98,2747.26 759.66,2746.88 762.34,2746.48 765.02,2746.05 767.71,2745.61 770.39,2745.14 773.07,2744.65 775.75,2744.13 778.43,2743.58 781.11,2743.01 783.8,2742.41 786.48,2741.79 789.16,2741.13 791.84,2740.44 794.52,2739.73 797.21,2738.98 799.89,2738.2 802.57,2737.39 805.25,2736.54 807.93,2735.66 810.61,2734.75 813.3,2733.8 815.98,2732.81 818.66,2731.79 821.34,2730.72 824.02,2729.62 826.7,2728.48 829.39,2727.31 832.07,2726.09 834.75,2724.83 837.43,2723.52 840.11,2722.18 842.8,2720.8 845.48,2719.37 848.16,2717.89 850.84,2716.38 853.52,2714.82 856.2,2713.21 858.89,2711.56 861.57,2709.87 864.25,2708.12 866.93,2706.33 869.61,2704.5 872.3,2702.62 874.98,2700.69 877.66,2698.71 880.34,2696.69 883.02,2694.61 885.7,2692.49 888.39,2690.32 891.07,2688.11 893.75,2685.84 896.43,2683.52 899.11,2681.16 901.8,2678.75 904.48,2676.29 907.16,2673.78 909.84,2671.22 912.52,2668.62 915.2,2665.96 917.89,2663.26 920.57,2660.51 923.25,2657.71 925.93,2654.86 928.61,2651.97 931.3,2649.02 933.98,2646.03 936.66,2643 939.34,2639.91 942.02,2636.78 944.7,2633.61 947.39,2630.39 950.07,2627.12 952.75,2623.81 955.43,2620.45 958.11,2617.05 960.79,2613.6 963.48,2610.12 966.16,2606.59 968.84,2603.01 971.52,2599.4 974.2,2595.74 976.89,2592.05 979.57,2588.31 982.25,2584.53 984.93,2580.72 987.61,2576.86 990.29,2572.97 992.98,2569.04 995.66,2565.07 998.34,2561.07 1001.02,2557.03 1003.7,2552.96 1006.39,2548.85 1009.07,2544.71 1011.75,2540.54 1014.43,2536.33 1017.11,2532.1 1019.79,2527.83 1022.48,2523.53 1025.16,2519.2 1027.84,2514.85 1030.52,2510.47 1033.2,2506.06 1035.89,2501.62 1038.57,2497.16 1041.25,2492.67 1043.93,2488.16 1046.61,2483.62 1049.29,2479.06 1051.98,2474.48 1054.66,2469.88 1057.34,2465.26 1060.02,2460.62 1062.7,2455.96 1065.39,2451.28 1068.07,2446.58 1070.75,2441.87 1073.43,2437.14 1076.11,2432.39 1078.79,2427.64 1081.48,2422.86 1084.16,2418.08 1086.84,2413.28 1089.52,2408.47 1092.2,2403.65 1094.88,2398.81 1097.57,2393.97 1100.25,2389.12 1102.93,2384.26 1105.61,2379.4 1108.29,2374.53 1110.98,2369.65 1113.66,2364.77 1116.34,2359.88 1119.02,2354.98 1121.7,2350.09 1124.38,2345.19 1127.07,2340.29 1129.75,2335.39 1132.43,2330.49 1135.11,2325.58 1137.79,2320.68 1140.48,2315.78 1143.16,2310.88 1145.84,2305.99 1148.52,2301.09 1151.2,2296.2 1153.88,2291.31 1156.57,2286.43 1159.25,2281.56 1161.93,2276.69 1164.61,2271.82 1167.29,2266.96 1169.98,2262.11 1172.66,2257.27 1175.34,2252.44 1178.02,2247.61 1180.7,2242.8 1183.38,2237.99 1186.07,2233.2 1188.75,2228.41 1191.43,2223.64 1194.11,2218.88 1196.79,2214.13 1199.48,2209.39 1202.16,2204.67 1204.84,2199.96 1207.52,2195.27 1210.2,2190.58 1212.88,2185.92 1215.57,2181.26 1218.25,2176.63 1220.93,2172.01 1223.61,2167.4 1226.29,2162.82 1228.97,2158.24 1231.66,2153.69 1234.34,2149.15 1237.02,2144.64 1239.7,2140.13 1242.38,2135.65 1245.07,2131.19 1247.75,2126.75 1250.43,2122.32 1253.11,2117.91 1255.79,2113.53 1258.47,2109.16 1261.16,2104.82 1263.84,2100.49 1266.52,2096.19 1269.2,2091.91 1271.88,2087.64 1274.57,2083.4 1277.25,2079.18 1279.93,2074.99 1282.61,2070.81 1285.29,2066.66 1287.97,2062.53 1290.66,2058.42 1293.34,2054.33 1296.02,2050.27 1298.7,2046.23 1301.38,2042.21 1304.07,2038.22 1306.75,2034.25 1309.43,2030.3 1312.11,2026.38 1314.79,2022.48 1317.47,2018.6 1320.16,2014.75 1322.84,2010.92 1325.52,2007.12 1328.2,2003.34 1330.88,1999.58 1333.57,1995.85 1336.25,1992.14 1338.93,1988.46 1341.61,1984.8 1344.29,1981.16 1346.97,1977.55 1349.66,1973.97 1352.34,1970.4 1355.02,1966.87 1357.7,1963.36 1360.38,1959.87 1363.06,1956.4 1365.75,1952.97 1368.43,1949.55 1371.11,1946.16 1373.79,1942.8 1376.47,1939.46 1379.16,1936.14 1381.84,1932.85 1384.52,1929.58 1387.2,1926.34 1389.88,1923.12 1392.56,1919.93 1395.25,1916.76 1397.93,1913.62 1400.61,1910.49 1403.29,1907.4 1405.97,1904.33 1408.66,1901.28 1411.34,1898.25 1414.02,1895.25 1416.7,1892.28 1419.38,1889.33 1422.06,1886.4 1424.75,1883.49 1427.43,1880.61 1430.11,1877.76 1432.79,1874.92 1435.47,1872.11 1438.16,1869.32 1440.84,1866.56 1443.52,1863.82 1446.2,1861.1 1448.88,1858.41 1451.56,1855.74 1454.25,1853.09 1456.93,1850.46 1459.61,1847.86 1462.29,1845.28 1464.97,1842.72 1467.66,1840.18 1470.34,1837.67 1473.02,1835.18 1475.7,1832.71 1478.38,1830.26 1481.06,1827.83 1483.75,1825.43 1486.43,1823.05 1489.11,1820.69 1491.79,1818.35 1494.47,1816.03 1497.15,1813.73 1499.84,1811.45 1502.52,1809.2 1505.2,1806.96 1507.88,1804.75 1510.56,1802.55 1513.25,1800.38 1515.93,1798.22 1518.61,1796.09 1521.29,1793.98 1523.97,1791.88 1526.65,1789.81 1529.34,1787.76 1532.02,1785.72 1534.7,1783.71 1537.38,1781.71 1540.06,1779.73 1542.75,1777.77 1545.43,1775.84 1548.11,1773.91 1550.79,1772.01 1553.47,1770.13 1556.15,1768.26 1558.84,1766.42 1561.52,1764.59 1564.2,1762.78" stroke="#EB6C1F" stroke-width="6.5" fill="none" stroke-linejoin="round" stroke-linecap="round"/>
<path d="M240.27 2742.55h19.7v19.7h-19.7zM267.09 2742.55h19.7v19.7h-19.7zM293.9 2742.55h19.7v19.7h-19.7zM320.72 2742.55h19.7v19.7h-19.7zM347.54 2742.55h19.7v19.7h-19.7zM374.36 2742.55h19.7v19.7h-19.7zM401.18 2742.55h19.7v19.7h-19.7zM427.99 2742.55h19.7v19.7h-19.7zM454.81 2742.55h19.7v19.7h-19.7zM481.63 2742.55h19.7v19.7h-19.7zM508.45 2742.55h19.7v19.7h-19.7zM535.27 2742.55h19.7v19.7h-19.7zM562.08 2742.55h19.7v19.7h-19.7zM588.9 2742.55h19.7v19.7h-19.7zM615.72 2742.53h19.7v19.7h-19.7zM642.54 2742.46h19.7v19.7h-19.7zM669.36 2742.2h19.7v19.7h-19.7zM696.17 2741.51h19.7v19.7h-19.7zM722.99 2739.98h19.7v19.7h-19.7zM749.81 2737.03h19.7v19.7h-19.7zM776.63 2731.94h19.7v19.7h-19.7zM803.45 2723.95h19.7v19.7h-19.7zM830.26 2712.33h19.7v19.7h-19.7zM857.08 2696.48h19.7v19.7h-19.7zM883.9 2675.99h19.7v19.7h-19.7zM910.72 2650.66h19.7v19.7h-19.7zM937.54 2620.54h19.7v19.7h-19.7zM964.35 2585.89h19.7v19.7h-19.7zM991.17 2547.18h19.7v19.7h-19.7zM1017.99 2505h19.7v19.7h-19.7zM1044.81 2460.03h19.7v19.7h-19.7zM1071.63 2413.01h19.7v19.7h-19.7zM1098.44 2364.68h19.7v19.7h-19.7zM1125.26 2315.73h19.7v19.7h-19.7zM1152.08 2266.84h19.7v19.7h-19.7zM1178.9 2218.56h19.7v19.7h-19.7zM1205.72 2171.41h19.7v19.7h-19.7zM1232.53 2125.8h19.7v19.7h-19.7zM1259.35 2082.06h19.7v19.7h-19.7zM1286.17 2040.42h19.7v19.7h-19.7zM1312.99 2001.07h19.7v19.7h-19.7zM1339.81 1964.12h19.7v19.7h-19.7zM1366.62 1929.61h19.7v19.7h-19.7zM1393.44 1897.55h19.7v19.7h-19.7zM1420.26 1867.91h19.7v19.7h-19.7zM1447.08 1840.61h19.7v19.7h-19.7zM1473.9 1815.58h19.7v19.7h-19.7zM1500.71 1792.7h19.7v19.7h-19.7zM1527.53 1771.86h19.7v19.7h-19.7zM1554.35 1752.93h19.7v19.7h-19.7z" fill="#EB6C1F"/>
<rect x="289" y="1752" width="382.5" height="611" fill="#fff" stroke="#1A98D6" stroke-width="3.3"/>
<path d="M315.7 1829H383.1" stroke="#FBA688" stroke-width="5.8" stroke-linecap="round"/>
<rect x="349" y="1824.8" width="10" height="6" fill="#FBA688"/>
<text transform="translate(391.4 1844.3) scale(0.94 1)" font-family="'Liberation Sans', sans-serif" font-weight="normal" font-size="51.2">COV(k)=0.3</text>
<path d="M315.75 1981H383.05" stroke="#000000" stroke-width="5.9" stroke-linecap="round"/>
<rect x="339.4" y="1978" width="20" height="6" fill="#BFBFBF"/>
<text transform="translate(391.4 1996.3) scale(0.94 1)" font-family="'Liberation Sans', sans-serif" font-weight="normal" font-size="51.2">COV(k)=0.5</text>
<path d="M315.75 2134H383.05" stroke="#188AC3" stroke-width="5.9" stroke-linecap="round"/>
<path d="M347.4 2124H351.4L357.7 2131.6V2136.4L351.4 2144H347.4L341.1 2136.4V2131.6z" fill="#188AC3"/>
<text transform="translate(391.4 2149.3) scale(0.94 1)" font-family="'Liberation Sans', sans-serif" font-weight="normal" font-size="51.2">COV(k)=0.7</text>
<path d="M315.7 2287.2H383.1" stroke="#EB6C1F" stroke-width="5.8" stroke-linecap="round"/>
<rect x="339.55" y="2277.35" width="19.7" height="19.7" fill="#EB6C1F"/>
<text transform="translate(391.4 2302.5) scale(0.94 1)" font-family="'Liberation Sans', sans-serif" font-weight="normal" font-size="51.2">COV(k)=1.0</text>
<text transform="translate(869.32 3135.8) scale(0.9 1)" font-family="'Liberation Serif', serif" font-weight="normal" font-size="86">(</text>
<text transform="translate(895.76 3135.8) scale(1.06 1)" font-family="'Liberation Serif', serif" font-weight="bold" font-size="86">b</text>
<text transform="translate(947.58 3135.8) scale(0.9 1)" font-family="'Liberation Serif', serif" font-weight="normal" font-size="86">)</text>
</g>
</svg>
</body></html>
